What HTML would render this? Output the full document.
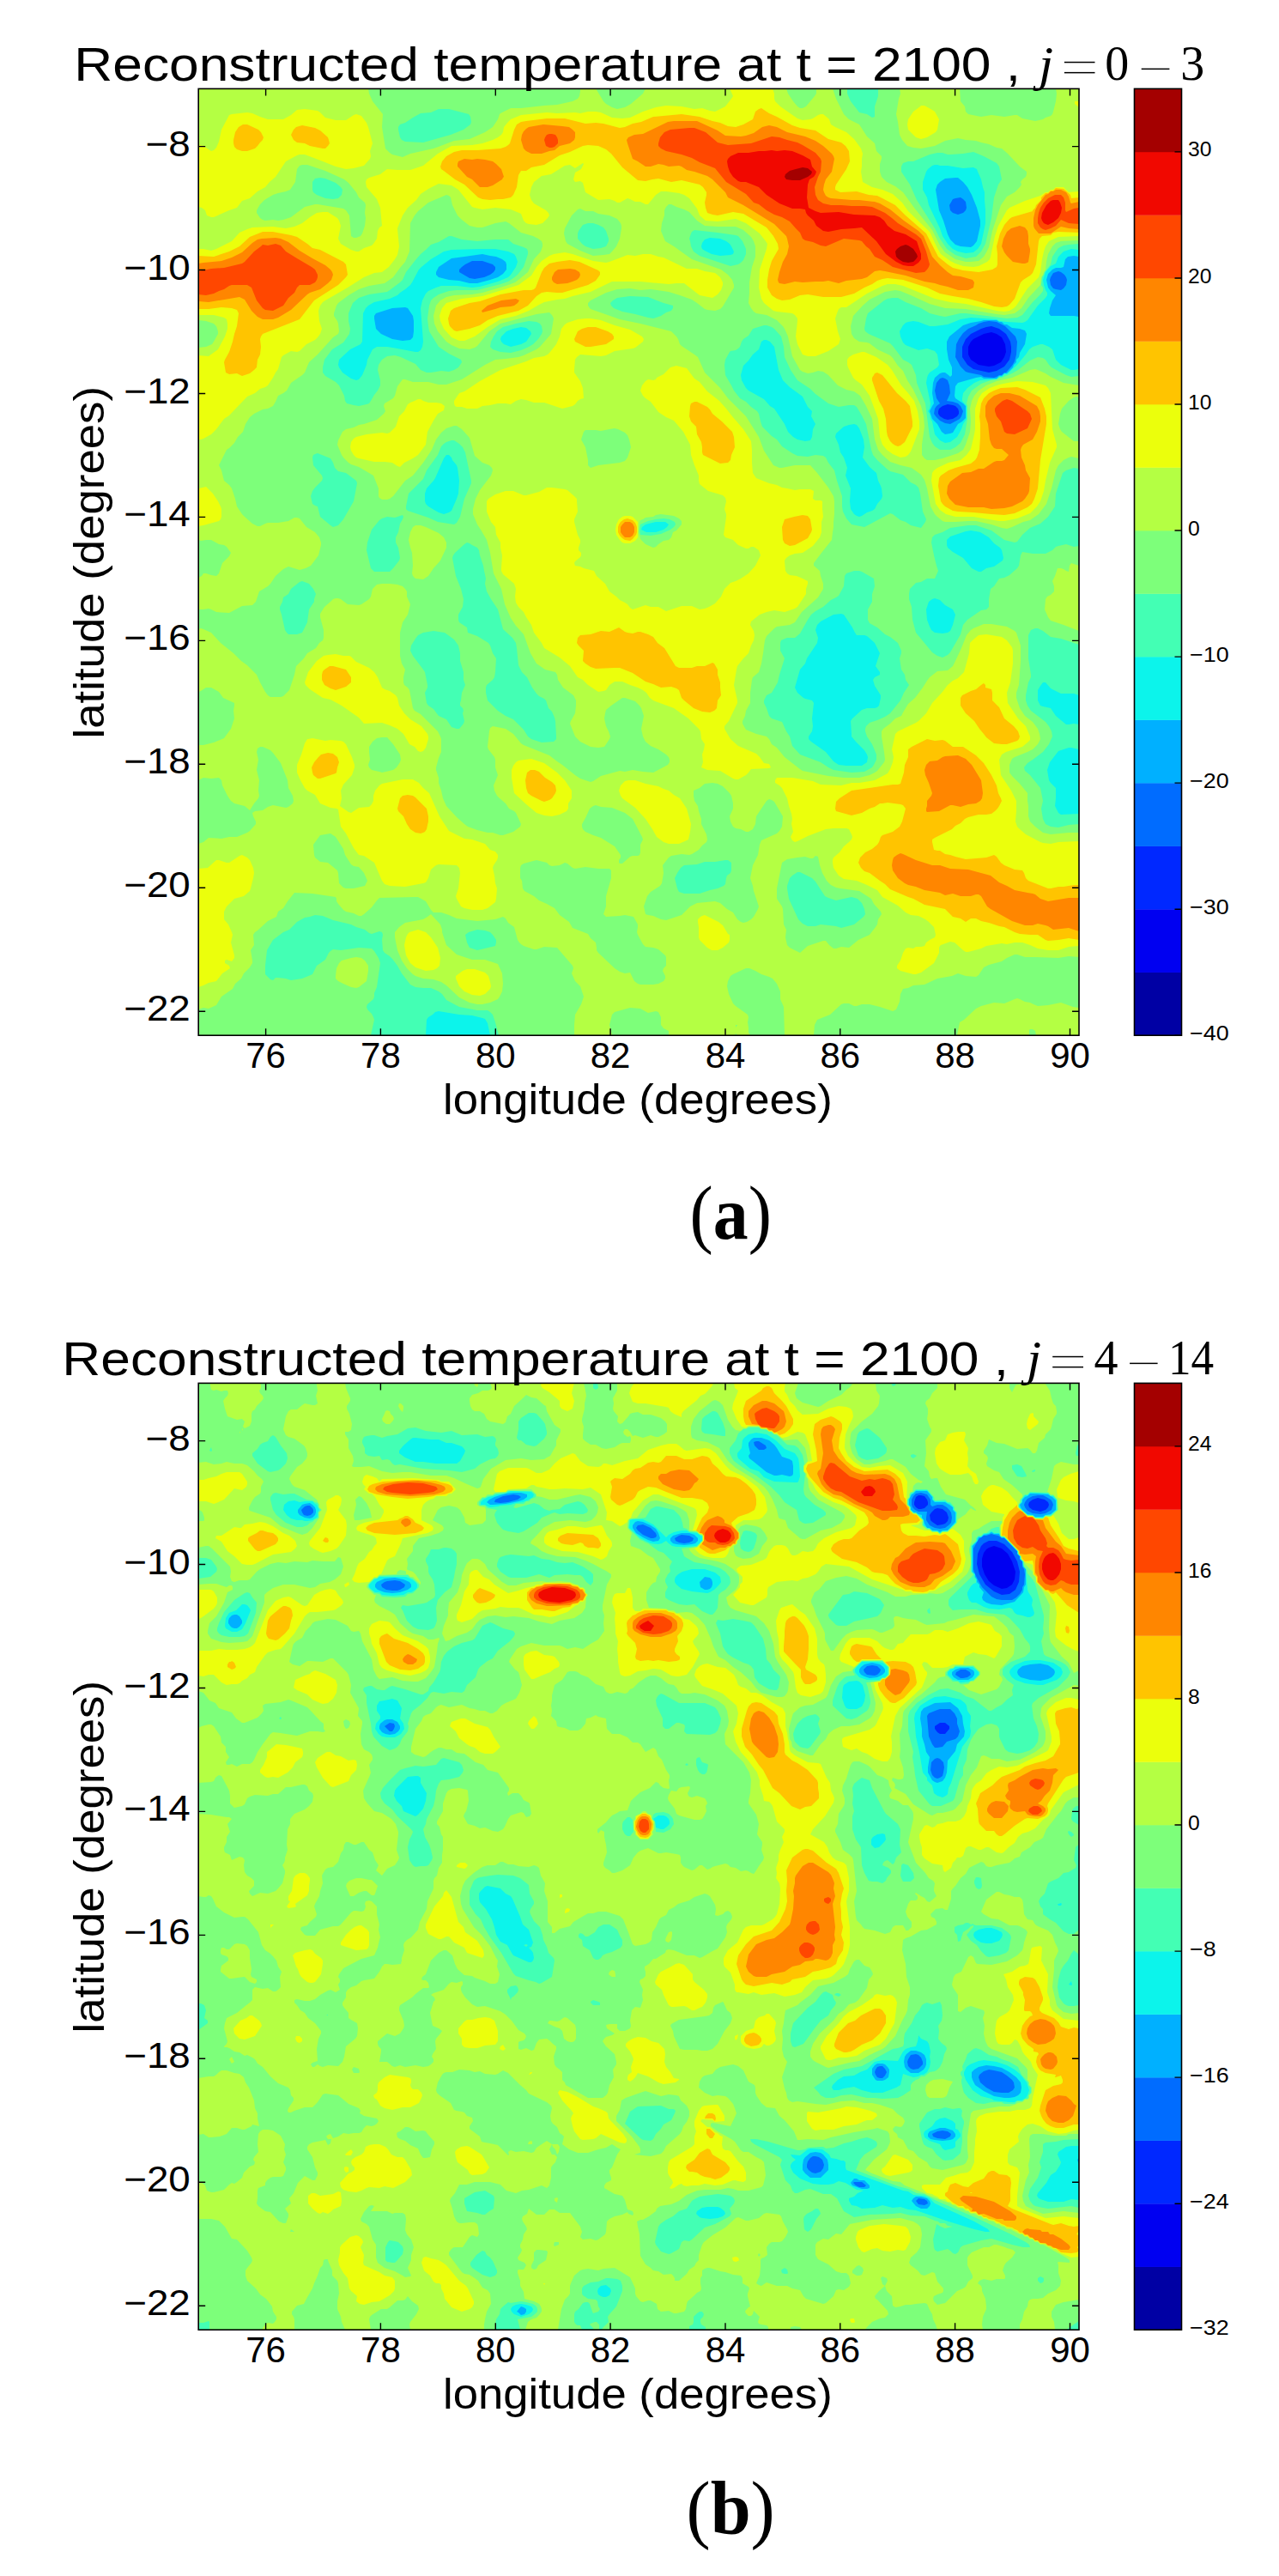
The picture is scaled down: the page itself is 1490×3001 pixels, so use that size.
<!DOCTYPE html>
<html><head><meta charset="utf-8"><style>
html,body{margin:0;padding:0;background:#fff;width:1490px;height:3001px;}
svg{display:block;}
.ti{font-family:"Liberation Sans",sans-serif;font-size:56px;fill:#000;}
.tk{font-family:"Liberation Sans",sans-serif;font-size:42px;fill:#000;}
.lab{font-family:"Liberation Sans",sans-serif;font-size:49.5px;fill:#000;}
.cb{font-family:"Liberation Sans",sans-serif;font-size:24.7px;fill:#000;}
.mi{font-family:"Liberation Serif",serif;font-style:italic;font-size:56px;fill:#000;}
.mr{font-family:"Liberation Serif",serif;font-size:56px;fill:#000;}
.pl{font-family:"Liberation Serif",serif;font-size:88px;fill:#000;}
</style></head><body>
<svg width="1490" height="3001" viewBox="0 0 1490 3001">
<rect width="1490" height="3001" fill="#fff"/>
<rect x="231.2" y="103.4" width="1025.8" height="1102.8" fill="#0000a4"/>
<path fill="#0000f1" fill-rule="evenodd" d="M231 103l1026 0 0 1103-1026 0 0-1103z"/>
<path fill="#0028ff" fill-rule="evenodd" d="M231 103l1026 0 0 1103-1026 0 0-1103zM1146 389l-12 6-3 3-3 6 0 9 3 6 9 6 12 2 6-1 8-4 4-6 2-6-1-9-4-8-6-4-6-2-9 2z"/>
<path fill="#006cff" fill-rule="evenodd" d="M231 103l1026 0 0 1103-1026 0 0-1103zM1098 473l-4 3-1 3 0 3 2 3 5 3 4 1 6-1 5-3 2-3 0-3-1-3-3-3-3-1-6-1-6 2zM1143 383l-12 6-6 6-4 9 0 12 6 9 7 5 18 4 9-2 9-5 6-8 2-9 0-6-1-6-5-9-8-6-9-3-6 1-6 2z"/>
<path fill="#00b0ff" fill-rule="evenodd" d="M231 103l1026 0 0 1103-1026 0 0-1103zM550 304l-8 4-4 3-3 3 0 3 12 7 6 1 11-2 7-3 4-3 2-3 0-3-3-3-3-1-9-3-12 0zM1095 441l-4 5-2 9 2 9 4 6-4 3-2 3-1 6 2 3 5 5 6 3 6 1 11-6 2-3 2-6-3-6-3-3-6-2-7-1 4-9-1-9-2-6-3-2-3-1-3 1zM1110 232l-4 7 1 6 3 3 3 1 3 1 6-2 3-3 1-3-1-7-3-3-3-2-6 1-3 1zM1152 374l-6 1-3 1-3 1-3 2-9 4-6 5-5 7-3 6-1 15 6 11 6 6 3 1 15 3 3 2 12 1 3-1 3-2 3 0 3-3 2 0 7-8 3-5 2-8 1-15-2-6-12-12-10-5-9-1zM1230 317l-3 1-3 5-1 3 1 6 3 4 3 1 6 1 3-2 3-4 1-6-1-3-2-3-4-3-3-1-3 1z"/>
<path fill="#0cf4eb" fill-rule="evenodd" d="M231 103l1026 0 0 196-6-1-7 1-3 3-2 9-3 1-6 0-4 2-5 5-2 7 2 9 3 4 6 5-4 6-3 9-1 6 2 3 27 0 6 1 0 837-1026 0 0-1103zM457 359l-19 6-2 3 0 3 2 12 6 6 13 6 12 2 9-1 3-3 1-7 0-12-1-6-6-9-3-1-15 1zM541 299l-15 2-3 2-12 8-3 6 0 3 3 3 12 3 12 1 12 3 9 0 15-4 9-3 6-4 4-5 0-6-1-3-4-3-7-3-7-1-9-2-21 3zM1101 208l-6 4-3 3-2 6 4 24 5 12 5 16 3 6 6 6 6 2 12 1 3-2 4-5 4-18 0-6-4-15-6-15-5-9-5-6-6-5-3 0-12 1zM1146 373l-3 1-12 2-9 3-16 13-3 6 0 9 2 12 4 9 0 9-2 2-2-2-4-3-3 0-3 1-6 5-2 6-1 12 2 12-2 3-3 6 3 9 6 6 5 9 4 3 6-1 3-1 6-10 5-3 4-4 0-14-3-3-9-6-1-3 1-11 3-4 21-6 6-1 3 2 15 0 3-3 3 0 3-3 3 0 7-7 1-3 3-3 0-3 3-3 1-5 6-10 2-12-2-4-6-2-9-1-6-4-3 0-3-3-3 0-3-2-15 0z"/>
<path fill="#43ffb4" fill-rule="evenodd" d="M231 103l1026 0 0 188-9-1-9 3-6 6-3 8-6 3-6 7-3 9 1 6 2 6 2 3 0 3-2 3-9 9-12 17-3 2-3 1-18-1-9-1-3-2-30-2-12 2-15 6-15 2-6 0-13-5-6-1-6 1-3 1-3 3-4 7 1 6 3 7 3 3 15 6 10-2 3 1 6 2 3 4 2 12-2 3-9 6-2 3-1 3-1 6 5 24-1 6-2 3 2 3 1 6 2 3 3 15 6 7 6 3 6-1 8-6 5-9 2-6 4-6 0-15-5-6 0-3 1-6 5-6 8-6 7-3 19-1 3-3 3 0 3-3 3 0 12-11 10-12 4-6 4-3 9-3 3 0 7 3 4 3 4 12 6 6 12 6 3 0 6-1 0 380-6-2-15 0-12-6-6-7-3 0-3 4-3 5 0 3 0 9 3 6 3 1 9 2 6 9 12 10 3 0 6-1 6 1 0 29-9-2-3 0-12 4-10 13-3 9 2 12 2 3 6 6 0 12-1 9 4 8 3 2 21-1 0 258-686 0-3-14-3-5-3-1-12-3-15-1-24-4-4 1-3 3-5 3-2 3-1 18-265 0 0-1103zM559 290l-33 1-9 2-15 9-11 9-3 3-8 15-2 3-6 5-6 4-3 3-9 4-18 4-7 4-3 3-3 6-1 33-2 3-12 6-13 12-1 6 1 3 4 6 10 7 6 2 3-1 4-5 5-12 1-6 6-12 5-3 12 0 12 2 21 4 3 0 3-2 2-4 1-6-3-39 2-9 4-8 3-3 9-4 6-2 18 0 18 2 9-1 21-6 12-5 3-3 6-9 2-6-2-6-2-3-7-3-15-3-18 0zM764 608l-12 3-4 3-1 3 6 3 11 0 9-3 4-3 2-3-4-3-11 0zM827 277l-6 2-3 4-1 4 1 3 3 2 8 4 10 2 12-1 3-1 1-3-3-6-2-3-4-3-7-3-12-1zM890 396l-3 2-3 9-7 6-5 7-6 6-3 11 1 6 5 9 3 3 18 10 7 8 5 3 12 18 4 9 6 6 5 3 9 2 6-1 2-4 1-9 3-6-5-9 1-6-5-5-6-12-15-11-8-8-5-12-5-27-5-6-4-2-3 0zM971 716l-15 8-4 4-2 6 3 9-1 6-12 18-2 6-6 7-6 21 3 6 7 6 2 1 8 2 2 3-2 18 1 9-1 6-4 6 0 3 3 3 17 12 9 11 6 4 9 1 18 0 6-4 1-6-1-3-3-5-10-10-5-6 0-3-1-15 2-3 11-10 6-2 9 0 3-1 2-2 2-9 0-3-7-11-2-7 2-3 6-3 0-3-5-7 5-15-6-12-9-8-3-1-9 0-2-3-3-6-10-15-3-1-9 1zM995 494l-6 1-6 2-9 8-1 4 4 9 2 9 4 6 4 12-2 9 6 15-1 15 1 9 4 6 3 2 3 1 3-1 6-4 6-2 3-2 3-6 5-6 1-3-1-9-1-3-3-6-2-9-8-7-8-11 2-12-1-9-5-13-3-4-3-1zM1086 193l-5 4-2 3-4 12 0 9 5 9 2 9 13 27 3 9 6 9 6 6 6 3 9 2 9-1 5-4 4-6 5-24 0-15-1-12 0-9-2-6-2-9-4-9-1-3-4-2-12 1-18-3-9 0-3-1-3 0-3 1zM1086 698l-4 3-3 9 1 12 3 8 2 4 4 3 9 1 6-1 3-2 3-7 3-12-3-6-9-5-6-6-6-2-3 1zM1125 619l-18 6-4 4 0 6 1 3 6 5 12 7 10 12 8 4 3 0 6-4 9-2 10-7 1-3-2-9-2-3-7-5-6-7-10-6-5-1-6-1-6 1zM523 530l-3 0-3 4-10 23-2 3-8 9-2 6 0 9 1 3 3 3 12 7 6 2 6-2 3-2 6-14 2-6 1-15-2-15-1-3-5-6-1-3-3-3zM598 383l-8 3-6 6-1 3 1 3 3 3 8 3 12-3 6-3 6-9-1-3-5-4-6-1-9 2z"/>
<path fill="#7dff7a" fill-rule="evenodd" d="M231 103l756 0 0 6 4 9 7 9 3 4 9 2 6 4 3-1 0-12 4-12 0-9 234 0 0 181-12 1-6 1-6 3-3 4-4 6-2 9-7 9-1 3-2 3-1 9 2 3 0 4-3 4-9 9-12 15-6 3-12 1-48-6-6 0-18 4-6-1-12-3-10-6-18-7-9-5-6 0-6 1-4 2-19 15-2 6-2 12 1 3 4 3 25 11 3 3 12 16 6 3 4 3 5 12 1 9 10 24 5 39 3 7 3 4 6 4 12 0 6-3 6-5 5-10 1-6 2-12 0-15-1-3 2-8 4-7 11-8 11-4 7-1 3-2 3 0 12-5 7-4 14-11 9-4 6 1 3 2 4 6 3 3 17 9 6 2 9-1 0 108-6-1-3 1-6 2-4 3-8 24-1 15-8 12-9 8-12 5-9 8-6 8-3 1-12-3-15-11-18-6-9 0-21 3-9 5-9 3-3 3-1 6 3 15 3 12 2 6-4 9-9 0-7 4-6 1-7 7-1 6 0 6 3 9 1 15 4 15 19 23 6 4 6 2 6-3 3-3 12-21 3-11 5-6 16-11 6-1 3-3 0-9 2-12 4-3 6-9 6-1 6-3 9-8 2-3 2-12 2-4 12 2 15 0 8-4 4-4 3-1 9-2 9 3 6-1 0 115-21-7-12-2-9-7-6-3-3 0-5 2-3 6 0 27 3 19 0 3-3 6-3 15 0 6 2 6 4 6 17 13 4 5 3 6 1 6-4 9-7 9-12 9-6 4-4 5 1 4 6 5 12 15 3 15-2 9 1 6 1 6 3 6 6 3 9 1 12-3 12-1 0 246-676 0-4-15-3-9-3-3-3-2-12 0-21-4-15-8-5-7-4-3-9-4-9 0-9-1-6-3-10-13-5-9-6-8-3-3-6-4-2-3-1-12 1-6-1-3-3-1-9 3-3-1-5-4-10-3-6-3-21-5-12-5-9-1-6 2-6 1-9 5-9 9-7 3-12 9-7 12-2 18 0 10 6 6 3 1 3-3 3 0 9 1 6 2 13-2 12-5 5-10 10-7 4-8 2-2 3-2 9 1 21-3 15 1 3 3 5 8 2 6-4 28-3 7 0 4-1 3-7 6-1 3 1 3 5 5 2 4 1 3-4 18-201 0 0-1103zM352 677l-3 1-10 8-3 6-6 4-1 5-3 6 0 3 2 6 4 18 2 3 2 2 10 0 6-2 6-12 2-15 6-9 0-3 2-6-3-6-5-6-8-3zM367 208l-3 4 0 9 1 3 4 3 10 4 9 1 6-1 4-4 1-6-2-3-6-5-12-5-6-1-6 1zM511 127l-9 4-12 1-9 5-9 6-6 2-2 3 0 3 2 9 2 3 4 2 21 1 32-9 15-6 8-6 1-3-1-6-2-3-23-6-12 0zM679 262l-5 7-1 3 0 6 5 6 4 3 9 3 9-1 6-2 3-6 0-3-3-9-3-4-6-3-6-2-6 0-6 2zM719 347l-5 3-3 3 1 3 3 3 10 4 15 3 15 4 6 1 9-3 6-4 6-2 2-3 0-3-11-3-8-3-10-4-21-1-15 2zM809 268l-3 2-1 2-2 6 1 3 1 6 3 6 7 5 36 12 9-2 3-2 3-3 3-7 0-6-4-9-5-6-3-1-21-3-27-3zM890 379l-13 4-5 8-6 4-2 3-2 6-2 2-3 2-6 1-1 1-5 9-1 6 1 12 7 12 3 6 7 9 7 4 6 6 7 5 2 3 2 9 2 6 11 11 6 4 6 8 12 8 6 3 12 1 9-2 9 1 3 2 3 6 7 9 3 12 6 18 0 12 1 6 4 8 6 7 15 3 30-16 3 1 9 7 6 2 6 4 12 3 5-7 1-3-4-9-3-21-2-7-3-3-6-3-9-9-15-4-3-2-12-11-5-6-2-6-6-30-5-10-6-10-3-2-6 0-12 2-12-4-15-11-6-6-15-10-8-12-7-15-1-12-3-12-8-9-3-2-6-2-3 0zM1092 178l-9 2-19 8-6 0-6 2-2 4 0 3 0 3 10 15 8 18 21 33 6 12 8 12 10 7 12 4 6-1 6-1 6-6 5-9 7-30 3-24 5-15 4-6-3-15-3-4-15-8-12-5-12 2-15 1-3 0-6-2-6 0zM367 529l-2 1-1 3 1 9 10 12 1 3-1 3-8 8-3 4-2 6 2 9 3 2 3 1 3 12 12 10 3 2 3-1 3-1 6-7 12-21 4-21-1-3-12-9-9-2-4-4-2-6-3-5-15-6-3 1zM526 275l-3 0-12 7-9 3-6 6-6 5-6 7-11 14-4 9-3 3-12 9-3 2-21 3-12 4-7 6-5 12 0 9 2 9-1 6-7 10-13 8-9 12-2 9 0 6 3 4 12 7 4 4 6 12 1 6 2 3 8 2 6 1 9-2 3-1 2-3 4-7 4-5 3-6 0-6-3-12 1-6 4-6 6-4 9-1 7 2 17 8 6 7 7 3 5 0 12-2 9 1 6-2 5-3 4-6-1-3-14-7-12-8-11-18-1-6-1-9 2-15 2-6 3-3 6-4 12-4 9-1 24 0 27-7 9-3 6-4 5-4 7-9 5-15 0-3-1-3-4-2-12-4-6-5-15 0-21 2-18-2-12-4zM764 605l-9 2-9 4-1 6 1 6 12 1 12-2 11-5 4-3 2-3-1-3-6-3-7-1-9 1zM821 1004l-9 3-15 1-4 3-4 6-3 6 3 12 2 4 6 2 18 0 12-4 9-2 7-3 2-2 1-7 1-3 4-3 1-3 0-9-4-3-3 0-12 2-12 0zM995 665l-9 3-2 3-1 12-6 11-3 2-6 3-9 8-9 5-5 4-4 6-9 16-6 5-9 0-7 3-1 3 0 9 5 9-6 19-2 9-7 12-6 3-3 6 0 3 3 6 3 9 3 3 12 4 1 2 4 9 4 6 3 11 9 10 24 9 9 6 6 3 21 3 15-1 9-5 2-3 3-6 0-6-5-12-6-9-2-6 0-3 1-3 4-4 9-3 9-4 6-4 12-15 4-9 4-6 2-3-4-6-1-6-4-6-2-13 2-6 0-3-4-9-9-7-6-3-9-8-9-5-2-4 0-12 5-9 0-9 3-9-1-9-14-8-3-1-6 0zM463 602l-3 1-9-1-6 2-3 2-9 11-5 15-1 9 5 21 4 4 18 0 4-4 7-9 1-3-1-6-1-6-3-6 0-6 3-6 2-10 3-5 1-3-1-2-6 2zM520 515l-3 2-3 3-4 10-13 18-4 10-17 17-3 15 0 3 2 2 24 8 11 5 19 3 3-2 4-7 5-21 8-18 0-3-7-33-3-6-4-4-6-4-3 0-6 2zM601 377l-15 4-7 5-4 6-3 6-1 6 3 3 9 3 12 1 12-3 9-4 5-3 6-6 4-6 1-3-1-6-2-3-4-2-9-1-15 3zM929 1016l-6 4-3 3-3 9 0 3 2 12 11 24 5 5 6 3 9 0 6-2 9 1 9 1 6 2 15-4 11-9 2-3-1-6-3-7-5-5-7-2-18 4-9-3-4-2-11-17-4-4-14-7-3 0zM493 737l-6 3-3 4-5 8-1 6 3 6 12 16 2 3 3 15 0 3-3 6 1 6 1 6 2 3 6 4 6 8 9 4 6 9 6 2 3 0 5-6 1-3-2-9 1-3-1-3-3-3 0-3 1-3 1-9 4-9-2-6 0-9-4-13 0-9-2-9-5-7-11-8-13-2-6 1-6 1zM544 632l-3 2-11 10-2 3-1 3 4 21 6 15 3 12-1 9-5 9 0 6 1 3 9 6 1 6 11 4 13 8 2 3 3 9 4 6-1 16-1 6-2 3-7 6-1 3 0 6 2 9 12 12 9 6 9 4 12 12 5 8 4 3 12 4 14-1 3-3 0-3-1-18-1-4-3-7-4-4-3-9-2-2-6-3-3-3-5-7-6-12-6-6-4-8-2-20-1-6-4-6-11-10-6-23-8-12-5-9-2-9 1-6-2-9-1-6-4-12-1-6-2-3-6-3-3-2-3-1zM556 1083l-10 3-4 3 2 9 3 6 3 1 6 2 21-5 1-4 0-3-4-6-3-3-6-2-9-1z"/>
<path fill="#b4ff43" fill-rule="evenodd" d="M231 103l198 0 1 6 4 9 12 15-1 15 4 25 5 5 3 2 12 3 9-4 27-6 24-9 18-2 18-8 9-6 6-9 2-6 1-1 12-6 12 0 27-3 15-1 9-2 9-2 6-3 2-3 1-6 0-3 18 0 9 15 3 3 7 4 6 2 9-2 7-4 14-12 3-6 164 0 2 6 6 9 5 6 3 2 3 0 4-2 10-12 2-3 0-6 19 0 4 12 9 18 6 6 12 6 9 14 9 8 2 9 6 6 0 3-2 6 0 9 2 6 6 6 10 5 9 7 13 18 21 26 9 18 6 8 12 8 12 3 6 0 9-1 6-5 3-5 3-6 4-19 10-30 7-10 9-5 6-6 2-3-1-3 2-3 4-3 1-3 0-3-8-6-14-15-7-6-6-1-9-4-9-2-6-2-12-1-9-2-15 3-12 6-16 3-9-1-7-2-6-7-3-6-2-15-2-9 3-18 2-6-1-6 70 0 1 15 5 6 1 6 3 3 15 3 12-2 15 2 12-2 3 0 6 4 15 3 9-2 3-2 6-2 2-2 1-3 3-12 1-9-1-6 27 0 0 177-21 1-6 2-4 4-5 9-2 9-1 9-2 3-1 3-2 3-1 9-14 15-8 12-8 6-12 2-9-1-36-6-24-1-18-5-22-10-12-5-6-1-6 1-6 1-18 9-8 7-11 12-3 12 1 9 3 5 6 4 9 1 3 1 9 7 15 7 3 3 6 9 6 6 5 11 7 11 9 19 3 12 1 12-3 21 0 12 3 4 3 2 9 0 9-2 18-6 6-4 3-6 5-15 1-12-1-15 2-9 3-6 5-6 9-6 12-5 18-4 21-9 6-1 3 1 9 4 6 4 15 7 18 3 0 14-3-1-3 1-6 4-8 9-2 6-2 12 2 6 2 3 14 11 6 0 0 20-9-2-3 1-6 3-6 6-3 6-5 21-6 18-9 12-10 7-8 2-13 6-6 2-6-1-12-4-18-4-9 0-15 1-12 0-3-1-6-5-3-3-5-9-4-21-3-10-4-6-11-8-13-3-12-4-9-8-5-6-4-12-3-24-7-15-7-12-7-5-9-2-10-5-11-12-6-4-6-1-6 2-6 1-6-2-3-2-9-16-5-23-4-9-2-3-7-7-12-6-12-2-3-2-3-4-3-6 1-12 0-12 3-18 4-12 0-12-2-6-3-5-9-8-9-4-21 0-15-1-9-6-9-10-6-3-9-3-6-3-3 0-3 3-2 4 0 6-3 9-1 9 5 12 10 6 21 15 34 12 8 6 5 6 2 6 0 3-13 22-3 3-6 2-9-1-3-1-9-7-6-4-14-5-13-4-21-3-12 1-12-2-15 1-13 4-18 9-3 3 0 3 2 3 1 1 34 12 24 5 36 9 6 6 2 3 2 6 2 2 15 10 4 3 8 18 18 18 9 12 21 21 15 24 6 16 11 17 7 3 3 0 15-3 18 0 8 9 13 17 6 10 1 6 0 15-1 9 0 6-1 6-1 9-12 15-9 12 0 3 7 6 1 6 3 9 0 6-6 10-19 17-8 12-6 3-15 2-3 2-9 9-2 5-2 15-2 12-3 10-7 6-1 3-2 15 0 9 0 3-5 9-1 6-3 6 0 3 4 7 12 5 12 3 3 3 3 6 6 4 9 11 18 14 3 2 30 6 18 2 18 0 12-3 6-3 3-2 8-10 1-3-1-9-3-18 0-6 2-3 8-6 6-6 7-3 2-4 6-10 8-7 9-12 5-8 3-4 9-7 12-1 6-5 3-6 7-15 6-15 5-6 3-2 12-5 9 0 18 3 9 5 2 2 5 15 0 18-2 28-3 9 0 6 4 12 6 9 9 7 6 8 2 6 1 6-3 6-6 6-6 3-15 6-3 2-3 7 0 9 3 4 9 9 9 11 0 9 1 6 0 12 2 6 6 6 9 7 9 2 21-2 12 0 0 145-12-1-12 2-27-1-12 0-9-3-3 0-9 4-6 4-15 4-6 3-6 9-3 2-12-1-9-3-7 3-17 3-15 7-13 1-6 3-6 1-3 6-1 9-4 9-4 2-15-5-12-3-9 0-6 2-3 0-6-3-6 0-3 1-13 12-15 6-3 6-1 12-34 0-1-33-4-9 0-9-4-9-5-6-4-2-9-3-7-4-7-3-4 0-15 7-3 2-3 6-1 6 2 9 5 11 3 3 14 10 1 3-1 6 1 6 0 6 2 3-15 0-2-2-1 2-77 0 0-5-6-3-3-4 0-9-3-6-3-1-9 2-9-5-12-1-18 5-3 3-3 12 3 12-44 0 0-12 1-12 7-12 3-9-4-12-6-6-4-9 2-6-1-3-18-21-15-1-9 3-3 0-12-4-3-2-2-2-2-3-4-15-7-5-3-5-3-2-9 3-21 2-24-3-9-4-9-3-9 0-3-3-6-10-9-5-3 0-42 1-3 3-6 8-9 8-3 2-3 0-6-3-9-2-3-2-6-7-2-3 0-3-1-2-27-4-21-1-8 10-5 8-6 4-2 6-10 5-12 11-3 2-2 3 1 12-4 6 2 12 0 3-3 5-7 7-3 6-7 6-3 6-13 9-6 10-9 4-6-1-6 2 0-193 6-2 6-5 15 1 9-2 9 0 12-5 3-2 7-8 0-3-3-6-1-4 3-2 9-1 6-4 6-2 15 3 3-1 5-4 1-3-1-6-5-9-1-9-8-20-9-12-3-3-9-4-3 0-3 2-1 4 2 9-2 12 3 12-1 12 1 6-1 3-5 6-5 8-6-5-12-3-4-3-4-6-3-6-3-6-1-6-3-3-9 1-9-1-6 3 0-41 6 0 12-3 12-5 8-11 3-9 1-3-1-9 1-6 0-3-13-6-5-7-9-5-6 0-6 4-3 1 0-73 3-1 3 1 9 4 11 12 15 12 9 9 7 5 11 11 4 9 6 11 3 4 3 2 12 0 3-1 7-7 6-18 2-10 9-9 4-6 10-6 4-6 4-3 1-3 0-9-4-15 0-4 5-8 7-6 3-3 3-1 3 0 3 1 8 6 13 1 3-1 9-6 2-3 2-9 5-5 6-1 9 0 9 1 6 2 3 3 2 3 0 6 4 9-3 12-6 9-3 12 0 27 2 9 4 7-2 9 0 6 1 3 4 3 2 3 4 21 2 3 7 4 11 11 9 9 3 6 1 3 0 15-3 7-3 11 0 3 3 9 0 6 3 9 2 9 4 9 12 13 9 8 4 3 11 4 12 3 6 0 9 3 3 0 12-4 8-6 1-3-6-13-2-2-6-3-4-6-7-6-3-3-3-6-1-6 5-12-3-9 0-9-1-3-7-9-1-3 2-18 1-4 3-2 15 3 9 6 9 11 3 2 30 12 9 7 6 4 15 12 6 4 12 4 3-1 9-6 22-6 6 1 9-2 12 2 12 1 17-9 2-3 0-3-1-3-3-3-9-6-9-4-6-5-3-6-2-9 3-15-3-9-2-3-5-5-12-4-3 0-13 9-6 5-1 4-1 6 2 9 3 6 2 6-1 3-6 9-7 1-9-1-12-6-6-6-6-15 1-3 5-9 1-9 0-6-3-6-12-9-2-3-4-6-1-6-2-3-12-3-10-7-7-12-8-22-9-10-6-9-7-16-4-18-9-18-4-24-4-15-7-12-4-6-5-12 0-6 3-12 5-10 13-17 2-6-1-3-3-3-8-3-9-8-6-21-9-10-6-4-3 0-9 3-6 5-6 8-5 12-10 15-12 15-9 6-14 18-4 3-3 1-6 0-3-2-1-2 0-9-6-15-17-10-9-3-3-2-6-6-2-3-5-12 1-5 5-10 4-3 9-2 6-3 6-1 15-5 8-7 2-3-2-6 1-3 10-6 2-3 3-11 6-8 3 0 9 3 18 0 12 3 9 0 3-1 15-5 27-17 12-6 12-1 15-2 6-2 15-7 4-3 13-15 2-12 1-6-2-4-3-3-15 2-42 11-13 9-14 17-3 2-6 2-12-1-9-4-6-4-10-12-4-9-1-9 3-12 5-6 7-4 9-2 21-1 12-2 27-8 11-4 4-3 11-9 7-15 8-9 2-6 0-3-1-3-4-3-6-3-14-4-14-11-4-2-12 2-15 5-6 0-9-2-9-7-5-5-6-12-2-9-2-2-3-1-21 9-12 10-4 5-5 9-1 33-5 12-6 7-8 11-10 7-18 3-12 4-12 7-12 9-2 3-3 9 0 3 4 6 1 3 1 9-1 3-6 4-18 20-10 9-5 12-3 3-13 9-5 9-4 3-6 3-3 7-3 5-6 3-6 1-10 5-5 4-5 8-3 9-6 6-4 7-6 6-3 2-9 18 3 6 3 12 6 5 3 4 4 12 2 9 6 9 3 3 9 8 6 3 3 0 6-3 3-1 12 0 12-2 7-4 3 0 3 1 8 10 10 6 5 6 2 6 0 3-3 12-9 12-6 3-7 2-13-4-6 3-9 8-6 9-3 3-10 6-1 3-3 9-4 4-12 1-15 8-15-1-6-3-3-1-6 1-6 0 0-37 4-2 2-3 3 0 6 2 6 1 3-3 4-12 8-8 2-4-5-7-3-2-6-1-9-5-6 0-6 1-3-1 0-224 9-1 7-3 2-3 5-9 0-3-2-6-3-3-9-3-9-1 0-270zM349 193l-3 4-2 15-6 9-5 2-9 2-6 2-10 6-5 5-4 7 0 3 4 6 3 2 3 1 9-1 6 1 6-1 9-3 16-12 12-3 3 0 30 5 3 2 4 6 2 24 3 2 3 0 5-2 2-3 3-9 1-9-1-6 1-9-1-3-7-6-3-6-9-11-5-4-22-10-21-7-6 0-3 1zM673 244l-7 7-8 15-1 6 2 9 2 3 15 8 15 6 12-1 7-1 3-3 5-6 4-9 2-12 0-3-1-3-4-5-9-4-13-2-6-3-9 0-6-3-3 1zM710 500l-10 2-6-1-12 0-2 2-3 9 5 9 3 15 0 6 3 3 9-3 25-3 6-2 3-4 2-6 2-6-2-9-2-5-3-3-8-4-4-1-6 1zM770 599l-6 1-3 2-9 1-3 2-3 1-1 2-1 12 2 8 6 6 9 4 3-1 3-3 6-4 6-1 3-3 2-6 4-2 6-7 0-4-3-3-6-3-15-2zM821 913l-6 5-7 3 0 6 1 6 4 6 1 6 3 9 0 6 6 12 1 6-1 3-5 4-4 5-8 5-3 1-9-1-12 2-3 2-7 9 1 9-2 12-2 3-11 7-4 5-4 12 2 9 3 1 6 1 9 4 6 1 9-3 9-3 10-10 8-4 21-2 6 2 8 7 7 4 5 8 4 3 3 1 4-1 5-3 3-3 5-9 1-3-6-18-1-6-3-9 3-15 6-12 2-12 2-5 18-8 3-3 3-5 1-12-10-17-3-2-3-1-3 2-10 15-2 3-1 9-3 6-5 3-3 0-6-3-6-1-3-2-3-6-1-6 4-9 0-6-2-9-2-3-8-8-6-3-6-1-9 1zM929 999l-12 2-6 4-6 30 0 12 6 9 1 3 1 18 3 6-1 9 2 9 3 3 12 6 9-8 18-6 3 0 4 5 5 4 3 0 6-2 9 1 11-9 13-6 7-9 2-3 1-6 4-6-1-3-8-9-3-6-14-9-22-3-5-1-6-3-5-5-5-9-3-9-2-10-3-1-3 3-3 0-6-2-9 1zM857 1194l0 3 2-3-2 0zM379 972l-6 1-8 11 1 12 1 3 6 5 9 1 11 9 1 3 1 12 5 5 3 1 9 0 13-3 3-6-4-9-6-7-6-1-3-2-7-11-2-7-9-14-6-4-6 1zM439 860l-5 4-4 6 0 6 1 9-2 6 1 3 3 3 9 2 3 1 13-3 4-3 4-6 1-3-1-6-8-12-7-8-6 0-6 1zM625 1002l-15 4-3 2-1 3 0 12 2 3 1 9 2 3 11 6 6 5 9 4 9 5 6 8 11 8 4 7 18 7 3 5 6 5 1 6 0 3 2 3 19 18 6 4 3 1 3 1 6-1 5 10 4 3 3 1 6 0 9 0 6-1 6-3 2-3 0-3-3-6 1-3 3-3 0-10-1-2-8-7-6-2-9-1-3-3-6-11-1-3 1-6 0-3-5-9-10-2-6 1-16 1-3-3 3-9 0-12 6-21 0-9-2-2-13 0-15-2-12 2-3-1-6-5-3-1-6 3-9 1-3-1-3-3-12-3zM694 938l-3 1-4 3-5 11-4 7 0 3 1 3 3 3 9 4 9 3 16 10 7 10 0 3-2 3 0 3 1 1 3 0 9-8 3-1 6 0 2-1 1-3 0-9 3-6-1-3-11-21-9-7-15-6-13-1-6-2zM481 614l3-2 6 0 6 2 15 7 6 5 3 6 0 6-7 15-8 9-6 9-6 4-9-1-3-3-1-3 1-9-1-15-2-6-2-9 2-9 3-6zM1246 659l2-3 9 3 0 76-18-7-15-5-3-4-4-9 1-12 2-3 4-2 4-4 0-6-2-6 3-6 3-9 4 0 3 1 3 2 3 1 1-7zM498 1068l4-3 11 12 2 6 0 3 5 15 12 11 18 6 15 0 12 4 3 1 5 11 1 12-1 9-3 6-2 3-9 4-9 2-6 0-9-2-12-6-15-14-6-4-9-3-12-1-9-3-3-2-7-7-6-9-5-12-3-15 0-6 5-6 7-5 21-4 5-3zM409 1116l6-1 6 1 4 3 4 6 0 6-2 12-9 7-3 1-6-1-9-4-6-3-3-3 0-3 1-9 3-6 3-3 11-3zM1182 1164l3-1 3 1 6 3 6 1 4 2 5 2 12-1 15-3 14 5 7 1 0 32-50 0-1-5-3-2-3 0-1 1 0 6-84 0 3-15 5-3 14-13 6-3 15-4 12 1 12-5z"/>
<path fill="#ebff0c" fill-rule="evenodd" d="M850 103l50 0 2 6 0 6 1 3 6 6 20 14 6 2 9-1 3-1 6-4 3-1 3 0 6 5 1 1 2 6 5 3 13 6 9 8 8 11 2 6-1 6 0 9-1 6 2 12 11 6 12 3 12 5 11 10 7 10 25 24 9 19 4 7 11 8 6 3 9 3 12 1 6-1 10-5 3-3 1-3 5-24 4-12 10-18 3-3 18-8 18-6 6-4 3 0 3-3 3 0 3-3 9 0 6 6 12-1 0 52-24 1-11 5-4 6-2 6-2 9-2 15-2 6-13 13-13 20-3 3-5 3-6 1-9-1-36-8-18-2-18-4-37-15-9-2-9 0-6 2-18 9-24 16-6 0-3 2-2 5-2 6 3 15 3 9-2 6-12 8-15 6-9 0-6-2-6-12-2-9 2-18 0-3-3-4-3-2-18-2-4-1-11-9-3-5-3-13 1-21 8-24 1-6-2-3-7-9-16-12-12-5-21 3-14-1-7-6-3-8-9-12-6-4-6-2-15-2-6 0-6 4-9 11-3 0-6-3-6 0-6-3-3-1-9 5-3 0-3-2-6-2-13 1-15-9-3-11-3-2-6 1-2-3 2-8 7-4 3-6-1-1-9 6-6-4-6 1-16 10-11 2-5 4-4 3-3 6-2 9 2 6 3 4 14 8 3 3 1 3-2 3-6 6-7 2-9-1-3-1-3-3-3-8-12-5-18-2-15 2-9-2-3-1-16-20-8-5-15-2-12 6-9 6-5 7-10 9-6 9-6 15 2 21-2 10-3 5-7 9-8 6-9 1-12 5-19 12-26 15-3 2-3 4-2 6 1 12 3 9-2 6-3 4-3 3-10 5-8 8-3 1-7-1-9 5-2 2-4 14-3 4-3 6-6 9-3 2-6 2-6 5-9 4-21 22-6 4-9 12-6 6-9 5-3 1-3 0 0-98 12 1 11-8 8-15 3-9 0-6-1-5-3-2-12-3-18 0 0-77 6 0 9 2 6-2 18-9 9-10 9-4 6-2 24-1 15 2 10-2 9-4 9-7 8-5 7-1 6 0 3 2 8 5 2 3 2 6-3 15 3 6 12 7 6 2 3 0 6-4 9-3 2-2 4-6 1-9 2-4 3-2-2-21-4-10-12-14-1-6 1-3 3-2 13-4 8-6 12 1 15 0 15-5 17-14 16-9 24-1 12-2 12-4 6-3 4-3 2-3 1-6 5-6 3-3 12-5 30-3 12 1 21-1 6 1 9-2 9 0 6 1 13 6 12 1 9-1 15-7 15-5 12-2 18 1 15 3 9-1 9 3 6 1 12-6 7-9 2-3-4-9zM1252 118l5 0 0 7-5-4 0-3zM1072 124l1-1 4 0 9 5 3 2 5 9-2 12-2 3-10 6-7 2-6-2-3-3-6-6-1-6 1-6 4-6 2-3 8-6zM355 127l15 2 3 2 6 6 12 3 12 0 9-6 3-1 6 2 6 8 2 5 5 19-3 9 1 6-1 3-7 8-12 3-9 1-12-3-15-6-21-8-6 0-3 1-13 7-12 18-7 6-5 6-9 5-9 8-9 3-6 8-9 3-18 8-3 0-5-2-2-6-4-3-4-1 0-72 6 1 9 6 3-1 3-3 3-7 3-14 8-15 1-2 3-1 18-2 6 1 9 4 9 3 15 0 3 0 9-5 7-6 9-1zM645 296l13-2 9 2 24 8 15 2 4-1 21-8 9 1 9-2 9 0 9 3 6 1 27 13 12 0 9 3 12 2 6 5 3 6 0 3-2 6-4 5-6 4-15-3-18-14-9 0-9 1-33-3-33 0-25 12-21 5-9 3-9 1-15 3-6 3-12 7-15 6-18 4-15 9-15 11-12 5-6 0-9-4-9-10-4-9-1-6 3-9 5-6 18-5 24-3 42-13 15-11 6-10 6-7 9-6 5-2zM682 371l6 0 12 2 16 6 18 5 14 8 2 3-1 3-9 7-3 1-21 3-10 5-6 1-24-2-4 3-2 3-1 12 0 3 7 10 3 8 1 12-4 1-3 2-3 4-3 2-12 3-21-7-12 0-9-3-6-1-6 2-6 4-6-1-9 0-9 2-9 1-6 3-12 0-6-2-6 0-2-1-1-3 0-3 6-9 6-2 18-12 24-13 30-10 9-4 12-2 4-2 3-3 7-9 4-9 2-9 4-5 3-2 12-4 9-1zM994 413l10-3 3 0 14 6 13 9 5 6 11 18 8 9 7 9 4 12 2 12 0 9-10 26-3 4-3 2-6 1-9-4-7-5-5-6-3-9-2-21-10-27-9-13-7-5-3-3-6-12-1-3 0-6 2-3 5-3zM781 428l7-2 12 3 9 12 6 4 9 11 14 11 8 9 7 9 13 15 9 14 1 10 0 15 1 12 4 6 15 6 9 2 6 3 6 1 9 2 6-1 12 0 4 2-1 9 3 2 6 0 2 1 0 9 1 9-2 6 0 12-2 6-8 10-6 4-6 4-9 1-6 2-4 3-2 3 1 12 2 3 3 2 8 1 7 3 6 3 0 3-2 6 0 6-8 12-2 3-3 2-12 4-12-2-9 2-8 3-10 8-1 4 4 7 1 5-1 6-3 6-3 9-6 6-7 9-1 4-3 18 4 18 0 3-10 21-5 6 0 3 7 12 9 8 21 9 4 4 5 7 6 1 2 4-2 1-21 1-3 4-3 3-9 5-3 0-3-1-15-9-15-1-7-3 2-6-1-9 2-6 1-6-4-6-1-9-2-3-12-12-17-12-24-9-4-3-4-6-4-3-6-3-9-3-9-4-9 0-6 4-4 6-3 1-6 1-12-8-6-6-6-3-9-13-12-10-18-11-3-6-9-12-3-9-6-9-3-6-6-6-3-5-1-7 1-9-2-6-13-11-2-4 0-3 1-15-2-9 0-6-5-9-1-9-5-6-5-12 0-9 0-3 2-3 8-5 12-4 9 0 12 5 3 0 15-4 9-5 6 0 15 2 3 1 8 7 3 3 0 3 1 12-4 9 0 3 4 15 3 6 0 3-2 6 0 3 3 3 0 3-1 2-6 5-1 2 1 3 6 1 4 2 12 3 3 6 10 9 5 9 8 6 4 4 6 3 3 2 3 4 3 2 15-5 6 2 9 0 9 5 18-6 12 0 9 4 6-1 5-2 7-4 7-8 4-9 7-7 6-2 6-3 9-6 8-9 6-12-1-3-1-3-6-4-3 0-3 2-3 0-9-4-6-6-9-3-2-3 3-21 0-3-2-6 2-9-1-4-3-3-17-5-10-8-1-4 0-6-5-12-4-12-1-12-8-15-11-13-9-4-9-6-9-12-6-4-3-3-3-6 1-3 1-3 4-5 3-2 6 1 3-1 1-2 8-4 8-8zM1174 446l11-2 18 1 15 4 3 3 3 6 2 42 5 18 0 3-8 18-5 21-2 12-4 12-4 6-8 8-15 6-15 3-6 0-30-5-21 0-11-3-7-5-5-7-5-27 1-9 2-3 4-3 13-6 14-3 7-6 5-7 4-17 1-6 0-24 4-12 4-6 9-6 11-4 10-2zM483 467l4-2 3 0 3 2 6 2 9 0 6 1 4 3-1 5-7 4-5 8-7 13-2 15-9 12-6 4-10 5-5 5-3-1-6-4-9-1-12 0-18-4-3-1-3-3-3-5-1-4 1-6 3-4 3-2 12-3 18-2 6 1 3-1 7-7 4-12 6-6 4-8 3-2 5-2zM232 569l8-2 8 8 6 9 3 6 1 3 0 9-1 3-2 2-18 5-6 1 1-44zM725 602l3-1 6 0 3 1 6 6 0 12 0 6-3 4-6 3-6 0-3-1-3-3-4-6-1-6 1-6 3-6 4-3zM1140 740l9-1 18 3 6 4 6 8 1 4 0 15-3 22-4 12 1 12 12 18 9 9 5 12 0 4-3 3-6 5-19 6-5 3-3 6 2 18 12 18 6 12 0 12-1 12 2 6 3 3 7 6 17 9 3 1 9 1 9-2 24-1 0 122-12 1-12 4-12 0-12-2-9-4-9-3-9 0-9 2-6-1-18 3-6 3-15 4-3 0-3-2-10-9-5-1-11 4-1 1-1 2 0 6-6 12-15 11-6 2-3 0-15-4-4-3 0-3 4-6 3-9 3-5 3-1 6 1 3-2 6 0 4-1 2-4 4-3 6-3 1-3-2-9-6-6-4-3-8-4-9-1-6-3-9-8-18-10-6-8-12-6-12-5-15-2-6-4-6-9-1-6 0-3 1-3 7-6 5-7 6-5 3-3 1-3-1-3-3-6-3-1-15 0-9 1-21 8-12 6-3 1-3-2-2-4 3-6-2-9 1-6-1-6-3-9-2-9-6-12-3-3-5-3 0-3 2-3 3 0 6 0 9 0 24 4 9 4 24 1 12-3 9 0 18-3 15-8 3-5 3-8 1-6-2-9 4-18 3-3 21-10 3-2 9-9 7-12 12-13 6-8 6-5 6-3 4-4 3-3 2-7 4-15 1-12 4-4 6-5zM377 764l5-1 9-1 9 2 7 0 2 1 6 6 15 7 6 5 4 6 5 12 3 2 6 2 7 5 2 3 2 9 6 9 7 7 13 8 7 9 1 3 0 3-3 10-3 4-3 1-3-1-4-5-6-3-7-12-7-6-9-4-9-3-21 1-6-7-20-14-13-7-9-2-15-10-5-5-1-3 4-12 10-13 8-6zM359 861l5-1 15 3 6-1 12 1 3 1 3 3 7 15 3 9 0 3-3 9-10 11-3 7 1 9-2 9 10 7 3 1 9-6 12-1 3-3 2-4 0-6 2-6 5-6 3-2 24-5 12 0 7 4 5 6 7 6 12 27 11 17 18 9 9 1 15 5 6 7 6 2 3 4 0 3-1 3-4 6-1 3 2 9 1 9 2 6-1 12-1 4-9 7-6 2-12 0-9-2-4-2-5-9-1-3 3-9 2-18-1-6-3-3-21-1-3 1-6 5-3 10-3 5-3 1-21 4-18-1-6-2-3-4-9-21-12-8-6-1-6-8-9-17-6-8-3-20-2-1-7-1-12-5-6-10-9-5-3-3-5-9-4-9 0-9 5-12 4-13 3-5 1 0zM611 885l8-1 15 5 15 11 9 9 8 12 0 6 0 3-4 6 0 6-2 3-8 4-9 2-9-1-9-3-12-10-14-13-3-18 0-9 2-5 3-4 3-2 7-1zM732 909l8 0 12 4 15 3 6 3 6 2 6 5 7 4 8 12 5 18-1 9-2 9-2 1-9 4-12 0-6-2-8-6-5-9-8-12-12-13-15-11-2-3-2-6 2-6 5-5 4-1zM276 999l3-2 3-1 6 3 3 3 4 9 1 6-1 6-3 12-1 3-7 6-11 3-9 9-3 6 0 6 0 3 5 6 4 9 1 3-2 9 4 15 0 3-3 4-6-2-2 1 0 3 5 3 1 3-9 6-7 9-9 2-6 3-6 2 0-138 11-1 10-9 3 0 9 3 3 0 9-6zM816 1068l2-1 3-1 16 8 5 4 6 10 2 1 0 6-1 3-7 6-6 3-7 0-5-3-6-6-3-3-1-3 0-12-1-6 0-3 3-3zM477 1086l10-3 9 3 6 6 8 12 3 12-1 9-3 3-4 2-9 1-12-4-6-5-5-9-2-12 2-9 2-4 2-2zM539 1131l5-2 9 0 12 4 4 4 2 7 1 5-1 3-6 6-6 2-9-1-9-4-6-6-4-9 0-3 8-6z"/>
<path fill="#ffc400" fill-rule="evenodd" d="M884 127l3-1 9 6 9 4 18 10 9 3 18 3 15 10 15 4 5 4 4 6 1 12-4 9-12 18-1 3 0 3 6 3 19-1 14 4 10 1 6 3 15 8 12 12 24 21 14 27 11 9 6 4 12 3 18 2 16-3 5-3 1-3 0-12-1-9 4-15 5-10 6-7 3-2 24-7 0-1 3-3 1-3 6-6 0-3 5-5 3 0 3-3 3 0 3-3 9 1 8 7 1 4 9-1 0 41-24-1-6 1-3 3-10 1-3 3-1 3-3 27-4 10-3 3-8 5-3 3-7 19-6 7-3 2-6 1-9-1-15-5-15-4-18-3-15-3-15-7-28-9-18-2-6 1-6 2-6 4-9 4-12 7-15 4-21 0-18-3-9 1-12 5-9 1-6-2-6-4-5-9 0-9 2-12 3-10 8-14-1-6-5-9-8-10-27-16-12-2-18 4-6-1-6-2-2-6-1-6 2-9 0-3-4-6-4-3-21-5-12 2-15-4-7 1-8 2-9-1-18-15-13-16-6-5-9-4-12-1-6 1-15 7-12 4-18 11-15 3-6 4-6 0-3 5-2 14-4 9-3 3-9 2-6 0-9 1-9-1-5-2-16-15-11-6-13-10-3-2-1-3 2-6 5-6 9-5 9-2 18 0 27-2 6-2 3-2 2-2 5-16 3-6 5-3 6-1 24-3 21 0 24 6 12-1 9 1 19 5 6-1 9-4 10-2 14-6 33-3 21 3 15 5 9 2 9 4 9 1 9-3 11-6 3-9 4-3zM283 145l5 0 13 6 3 3 3 6-1 3-3 3-3 4-3 3-9 3-6 0-6-2-3-3-1-4 0-4 2-9 4-6 5-3zM345 148l7-2 15 3 6 3 9 8 1 3 1 4-2 3-3 3-3 0-15-3-6-3-9-1-4-3-3-6 3-6 3-3zM301 272l5-2 12 0 21 4 7 2 12 8 6 5 9 2 27 14 3 3 2 12-2 3-9 9-28 18-17 22-43 17-2 3-1 3 1 9-1 9-3 6-1 9-3 3-5 4-9 3-6-3-9 1-4-2-2-12 1-3 5-9 4-12 2-9 3-9 2-15-2-4-6-2-12-1-15 2-12 0 0-62 18 1 18-6 12-6 12-11 10-4zM649 305l15-2 11 2 22 10 2 2 0 3-5 7-9 5-30 9-6 0-12-1-6 1-6 4-10 11-11 6-24 6-12 5-9 6-12 4-15 3-3-1-5-5-1-3-1-6 3-9 4-3 18-6 12-2 24-8 27-5 9 0 3-1 2-2 7-18 3-5 6-5 9-2zM678 383l7-2 9 0 14 5 5 3 2 3 0 3-9 6-18 3-6 0-12-6-1-3 4-9 5-3zM1018 437l1-2 3-1 6 3 17 21 10 9 5 6 3 18 0 6-3 6-6 12-5 4-3 1-3-1-3-2-3-3-3-6-1-5-1-15-3-12-5-9-8-24 0-3 2-3zM1166 452l19-1 9 3 18 9 5 13 2 9 0 9-7 42-3 33-4 12-3 6-5 4-15 7-12 2-15-1-21-2-18-1-6-1-9-5-3-3-2-3-3-18 1-9 2-3 9-6 8-3 18-5 5-4 2-3 3-9 1-15 0-15-1-9 2-15 3-6 6-6 6-3 8-3zM805 470l4-2 3 0 12 6 3 3 3 5 11 9 12 12 2 6 1 12-4 9-1 6-3 3-9 1-20-10-1-3 0-6-1-6-5-9-1-9-6-6-2-6 1-12 1-3zM925 602l10-2 6 1 3 4 2 12-1 3-4 7-15 8-6 1-6-3-2-4-1-15 3-9 11-3zM727 605l4-1 6 2 3 3 2 5 0 6-1 3-4 5-3 2-6-1-3-2-3-3-2-4 0-6 1-3 2-3 4-3zM721 731l7 5 3 1 6 1 6-2 3 0 9 3 6 3 5 7 8 6 13 21 4 2 15 0 6-2 9 0 9-4 2 1 4 7 0 6 3 9 0 6 1 9-4 6-1 9-3 3-5 2-9-1-10-4-11-9-3-3-3-9-3-2-6-2-12 1-9-4-9-3-15-10-15-6-6 0-22 1-6-2-6-4-3-3 1-12-6-6-2-3 1-6 3-3 12-1 12-4 10 1 11-5zM384 776l4 0 15 4 6 9 0 3 0 3-6 5-12 4-6-2-7-4-3-6 0-6 1-4 2-2 6-4zM1143 798l3-2 2 2 0 3 7 2 1 4 0 9 2 2 6 6 6 13 11 9 5 6 2 6-1 3-2 2-12 4-6 0-9-1-9-7-3-4-5-6-6-9-10-9-4-6-2-3 0-6 0-3 2-3 10-5 6-2 6-5zM1074 864l6-3 9 2 9-1 3 1 9 7 12 0 15 10 9 9 9 14 6 12 2 9 3 6 1 3-3 6-2 3-3 3-4 3-6 1-9 0-12 3-4 2-5 5-6 3-4 4-20 10-3 2 0 3 2 9 4 1 3 0 6 4 6 1 6 2 12 3 24-2 9-3 3 2 5 7 4 3 12 5 9 1 2 3 2 6 3 3 23 9 3 0 9-2 6 0 12-2 6 0 0 64-12-2-12 2-12 1-3-1-9-6-9 0-12-1-6-2-12-6-6-1-12-4-9-2-6-3-6 0-6 4-6-4-9-2-9-9-24-5-13-7-6-2-21-9-6-6-6-4-12-9-6-2-4-4-3-6 2-6 6-6 8-4 6-5 2-3 2-6 2-2 12-4 8-6 3-6 4-15-3-4-3-1-15-2-6 1-3 0-6 4-6 2-9 5-12 3-18-5-1-3 1-8 4-4 14-9 48-7 6 0 3-1 4-13 1-9 4-9 0-9 4-3 12-6zM374 879l8-2 6 1 5 4 2 6-2 6-1 6-1 1-18 6-3 0-5-4-1-3-1-6 3-6 5-6 3-3zM618 897l5 0 5 2 7 7 8 5 4 4 1 6-1 3-4 6-3 2-6 2-3-1-12-6-4-3-2-6-1-9 2-9 4-3zM469 927l6-1 6 1 3 2 13 13 2 9 0 6-2 9-2 3-2 1-3 1-6-1-6-4-4-6-4-9-6-6-1-3 3-12 3-3z"/>
<path fill="#ff8600" fill-rule="evenodd" d="M778 142l7-1 27 0 24 11 9 6 18 1 6-1 9-3 10-7 8-2 9 2 12 6 21 5 12 5 9 6 10 9 2 3 1 3-3 15-7 9-2 6-1 6 1 3 2 4 3 2 3 1 24 2 9 0 18 2 6 2 12 7 16 13 17 12 6 6 10 24 9 10 9 8 6 4 9 1 14 4 2 3-1 6-6 3-12 0-12-4-9-2-6-2-12-2-22-7-24-5-6-1-6 1-9 7-6 2-18 2-9 3-12-3-6 1-9 0-15 1-9-1-12 3-6-1-1-1-1-3 2-9 4-12 5-9 2-9-2-9-1-3-14-14-36-22-18-9-3-6-3-3-3-3-9-9-6-4-15-5-9-2-6-4-3-1-12 1-6-2-6-1-9 3-6 0-9-6-6-3-6-18-1-4 2-3 7-3 10-1 29-14zM633 145l22 2 8 1 4 3 3 3 0 6-1 3-5 4-12 3-6 5-6 1-9 3-9 0-3 0-6-3-3-3-3-10 1-6 2-4 3-3 3-2 17-3zM534 188l7-3 9 1 6-1 9 1 9 2 4 3 6 6 3 9-1 1-1 2-11 7-6 2-9 0-9-9-6-3-9-10-2-2 0-3 1-3zM1232 221l4 0 6 3 3 5 2 7 1 1 9-2 0 32-12-1-9-2-12 8-14 0-5-6-1-3 0-9 2-9 3-6 9-12 3-1 3-3 3 0 3-2 2 0zM1178 266l10-3 6 2 3 4 1 6 0 9 2 6 0 3-2 12-1 1-3 1-3 0-11-2-7-7-3-4-3-7 2-9 4-8 5-4zM305 278l16-1 6 1 9 4 13 10 15 9 15 8 6 5 2 3 1 3-2 6-4 4-9 7-12 4-3 2-19 18-15 9-6 2-12 0-6-3-7-7-8-13-6-3-36 6-12-1 0-44 6-1 21-2 12-4 12-6 12-11 6-4 5-1zM650 314l14-1 6 1 5 3 1 3-1 3-3 3-5 2-6 2-12 1-4-2-2-3 0-3 3-6 4-3zM584 350l17-2 4 2-2 3-4 3-4 1-12 1-6 2-15 4-1-2 7-6 16-6zM1166 458l10 0 12 3 20 12 3 6 1 6 0 6-4 12-5 9-11 6-2 3-1 3 1 9 4 9 1 6 5 9-1 15-1 3-4 6-3 3-12 6-9 2-15 1-9-2-18 0-15-3-7-7-3-6 1-9 3-5 14-10 10-1 9-4 6 0 12-8 3-1 6 0 3-1 5-6-8-7-6 0-3-1-3-4-2-6-2-18-3-9 0-12 3-6 7-6 8-3zM728 608l3 0 3 0 3 2 2 4 0 6-2 4-3 2-3 0-3 0-3-3-2-3 0-6 2-3 3-3zM1098 882l3-1 15-1 9 4 7 7 11 18 2 15-1 6-2 3-5 3-9 1-6 2-3 1-9-2-3 0-13 7-14 1-1-1 0-3 1-3 0-6 5-6 1-3-4-12-4-9-1-6 1-3 1-3 4-4 9-1 6-4zM1045 996l4-2 3 1 15 7 19 6 9 0 12 4 21 1 26 7 10 8 9 4 9 5 15 3 6 1 3 1 6 5 6 2 3 1 24-4 12 0 0 39-12-4-18 2-6-4-3-1-9-2-6 2-9 0-15-5-25-14-4-3-7-12-3-2-3 0-6 2-12 0-9-3-9 2-6-3-18-3-10-4-9-2-4-2-8-6-6-9-1-6 1-6 1-3 4-3z"/>
<path fill="#ff4700" fill-rule="evenodd" d="M781 151l22-2 6 0 13 5 14 12 12 3 27-2 24-8 9 1 9 3 12 3 6 3 15 9 6 7 1 3-1 12-3 6-4 12 1 9 3 6 6 4 9 2 12 0 12 1 15 0 9 1 15 7 8 6 7 6 21 13 6 5 6 15 4 15-1 3-2 3-3 3-10 1-27-7-12-8-9-4-6-9-4-3-5-6-3-1-18-2-21 9-6-1-9-4-9-2-3-2-3-7-5-5-7-8-9-5-9-3-9-5-9-7-6-2-9-10-23-14-13-16-18-7-9-5-12-4-18-4-6-3-3-3 0-3 2-7 5-6 7-3zM637 157l3-1 3 0 4 1 2 3 1 3 0 4-4 4-3 1-3 0-4-2-2-7 1-3 2-3zM1229 227l7 0 3 3 2 6 0 9 1 2 9-4 6-1 0 19-12-1-9-4-6 7-6 3-6 2-3-1-3-2-3-5 0-6 1-6 2-6 4-6 5-5 8-4zM304 287l2-2 6 1 9-2 6 2 6 7 13 8 17 10 4 3 3 6 0 3-1 3-2 3-6 3-12 0-3 3-3 6-7 6-6 9-12 6-9-1-3-2-7-9-6-15-5-3-18 0-3 1-6 4-6 2-6 3-9 2-9-1 0-27 15-3 15-1 21-5 3-2 11-12 8-6zM1168 467l5-2 6 2 18 12 3 3 2 6-5 11-15 7-9-1-3-2-4-12-5-6-2-6 0-3 2-3 7-6z"/>
<path fill="#f10800" fill-rule="evenodd" d="M891 176l8-1 6 1 9-1 9 1 12 5 9 5 2 8 5 6-1 3-2 3-5 3-2 6-1 15 2 12 8 4 6 2 21-1 18 3 24 1 6 2 5 4 4 6 8 6 13 4 13 8 5 15 0 6-3 4-6 4-6 0-6-1-8-4-12-9-11-15-17-16-9 1-15 1-15 3-6-1-8-6-3-6-7-6-2-3-1-4-6-1-9 0-15-6-15-10-9-9-15-6-6 0-3-1-6-5-4-6-2-6-1-6 1-3 3-3 9-4 12 0 12-2 7 0zM1227 233l6 0 2 3 2 6-1 6-3 6-6 5-6 3-3-1-2-1-2-3-1-3 1-6 5-9 5-5 3-1z"/>
<path fill="#a40000" fill-rule="evenodd" d="M927 197l8-2 6 1 5 4-1 3-4 3-9 4-9 0-7-1-2-3 1-3 5-4 7-2zM1049 287l6-2 3 1 6 4 4 6 1 3-2 3-3 3-6 1-6-1-5-3-3-3-1-6 2-3 4-3z"/>
<rect x="231.2" y="103.4" width="1025.8" height="1102.8" fill="none" stroke="#000" stroke-width="1.6"/>
<path d="M309.6 1206.2v-8M309.6 103.4v8M443.4 1206.2v-8M443.4 103.4v8M577.3 1206.2v-8M577.3 103.4v8M711.1 1206.2v-8M711.1 103.4v8M845.0 1206.2v-8M845.0 103.4v8M978.8 1206.2v-8M978.8 103.4v8M1112.6 1206.2v-8M1112.6 103.4v8M1246.5 1206.2v-8M1246.5 103.4v8M231.2 170.6h8M1257.0 170.6h-8M231.2 314.5h8M1257.0 314.5h-8M231.2 458.5h8M1257.0 458.5h-8M231.2 602.4h8M1257.0 602.4h-8M231.2 746.4h8M1257.0 746.4h-8M231.2 890.3h8M1257.0 890.3h-8M231.2 1034.2h8M1257.0 1034.2h-8M231.2 1178.2h8M1257.0 1178.2h-8" stroke="#000" stroke-width="1.4" fill="none"/>
<text x="309.6" y="1243.5" class="tk" text-anchor="middle">76</text>
<text x="443.4" y="1243.5" class="tk" text-anchor="middle">78</text>
<text x="577.3" y="1243.5" class="tk" text-anchor="middle">80</text>
<text x="711.1" y="1243.5" class="tk" text-anchor="middle">82</text>
<text x="845.0" y="1243.5" class="tk" text-anchor="middle">84</text>
<text x="978.8" y="1243.5" class="tk" text-anchor="middle">86</text>
<text x="1112.6" y="1243.5" class="tk" text-anchor="middle">88</text>
<text x="1246.5" y="1243.5" class="tk" text-anchor="middle">90</text>
<text transform="translate(221.8 181.6) scale(1.0900 1)" class="tk" text-anchor="end">−8</text>
<text transform="translate(221.8 325.5) scale(1.0900 1)" class="tk" text-anchor="end">−10</text>
<text transform="translate(221.8 469.5) scale(1.0900 1)" class="tk" text-anchor="end">−12</text>
<text transform="translate(221.8 613.4) scale(1.0900 1)" class="tk" text-anchor="end">−14</text>
<text transform="translate(221.8 757.4) scale(1.0900 1)" class="tk" text-anchor="end">−16</text>
<text transform="translate(221.8 901.3) scale(1.0900 1)" class="tk" text-anchor="end">−18</text>
<text transform="translate(221.8 1045.2) scale(1.0900 1)" class="tk" text-anchor="end">−20</text>
<text transform="translate(221.8 1189.2) scale(1.0900 1)" class="tk" text-anchor="end">−22</text>
<text transform="translate(516.0 1298.0) scale(1.0640 1)" class="lab" text-anchor="start">longitude (degrees)</text>
<text transform="translate(121.0 860.5) rotate(-90) scale(1.0660 1)" class="lab">latitude (degrees)</text>
<rect x="1321.5" y="1132.68" width="55.0" height="73.82" fill="#0000a4"/>
<rect x="1321.5" y="1059.16" width="55.0" height="73.82" fill="#0000f1"/>
<rect x="1321.5" y="985.64" width="55.0" height="73.82" fill="#0028ff"/>
<rect x="1321.5" y="912.12" width="55.0" height="73.82" fill="#006cff"/>
<rect x="1321.5" y="838.60" width="55.0" height="73.82" fill="#00b0ff"/>
<rect x="1321.5" y="765.08" width="55.0" height="73.82" fill="#0cf4eb"/>
<rect x="1321.5" y="691.56" width="55.0" height="73.82" fill="#43ffb4"/>
<rect x="1321.5" y="618.04" width="55.0" height="73.82" fill="#7dff7a"/>
<rect x="1321.5" y="544.52" width="55.0" height="73.82" fill="#b4ff43"/>
<rect x="1321.5" y="471.00" width="55.0" height="73.82" fill="#ebff0c"/>
<rect x="1321.5" y="397.48" width="55.0" height="73.82" fill="#ffc400"/>
<rect x="1321.5" y="323.96" width="55.0" height="73.82" fill="#ff8600"/>
<rect x="1321.5" y="250.44" width="55.0" height="73.82" fill="#ff4700"/>
<rect x="1321.5" y="176.92" width="55.0" height="73.82" fill="#f10800"/>
<rect x="1321.5" y="103.40" width="55.0" height="73.82" fill="#a40000"/>
<rect x="1321.5" y="103.4" width="55.0" height="1102.8" fill="none" stroke="#000" stroke-width="1.6"/>
<text x="1384.0" y="182.4" class="cb" text-anchor="start">30</text>
<text x="1384.0" y="329.5" class="cb" text-anchor="start">20</text>
<text x="1384.0" y="476.5" class="cb" text-anchor="start">10</text>
<text x="1384.0" y="623.5" class="cb" text-anchor="start">0</text>
<text transform="translate(1386.0 770.6) scale(1.0900 1)" class="cb" text-anchor="start">−10</text>
<text transform="translate(1386.0 917.6) scale(1.0900 1)" class="cb" text-anchor="start">−20</text>
<text transform="translate(1386.0 1064.7) scale(1.0900 1)" class="cb" text-anchor="start">−30</text>
<text transform="translate(1386.0 1211.7) scale(1.0900 1)" class="cb" text-anchor="start">−40</text>
<path d="M1376.5 176.9h-8M1376.5 324.0h-8M1376.5 471.0h-8M1376.5 618.0h-8M1376.5 765.1h-8M1376.5 912.1h-8M1376.5 1059.2h-8M1376.5 1206.2h-8" stroke="#000" stroke-width="1.4" fill="none"/>
<text transform="translate(86.3 93.5) scale(1.1126 1)" class="ti" text-anchor="start">Reconstructed temperature at t = 2100 ,</text>
<text transform="translate(1210.0 93.5) scale(1.1000 1)" class="mi" text-anchor="start">j</text>
<rect x="1239.9" y="71.8" width="35.6" height="1.5"/><rect x="1239.9" y="83.9" width="35.6" height="1.5"/>
<text x="1287.2" y="93.0" class="mr" text-anchor="start">0</text>
<rect x="1329.7" y="79.6" width="32.7" height="1.5"/>
<text x="1375.3" y="93.0" class="mr" text-anchor="start">3</text>
<rect x="231.2" y="1611.4" width="1025.8" height="1102.8" fill="#0000a4"/>
<path fill="#0000f1" fill-rule="evenodd" d="M231 1611l1026 0 0 1103-1026 0 0-1103z"/>
<path fill="#0028ff" fill-rule="evenodd" d="M231 1611l1026 0 0 1103-1026 0 0-1103zM1152 1803l-3 2-3 4-2 7 0 9 3 9 5 8 6 5 9 4 6-1 6-4 3-6 1-9-4-12-5-9-7-6-9-3-6 2z"/>
<path fill="#006cff" fill-rule="evenodd" d="M231 1611l1026 0 0 1103-1026 0 0-1103zM1070 1742l-3 2-1 3-1 3 0 3 2 3 3 2 3 0 4-1 4-4 0-3-1-3-3-4-4-1-3 0zM1089 1758l-4 4-2 3 1 6 2 2 6 4 6-1 3-1 3-3 1-4-2-6-5-4-6-1-3 1zM1152 1795l-6 3-3 3-4 9-1 12 3 12 7 12 10 8 9 4 9-1 7-5 4-9 1-12-3-12-6-11-9-9-9-4-9 0zM1203 1747l-4 3-1 3 1 3 4 3 9 2 6-2 3-3 1-3-1-3-4-3-8-2-6 2zM1095 2007l-6 4 0 3 3 4 3 2 6 0 5-6 0-3-5-4-6 0z"/>
<path fill="#00b0ff" fill-rule="evenodd" d="M231 1611l1026 0 0 1103-1026 0 0-1103zM355 1755l-4 4 1 3 2 3 4 1 4-1 3-3 0-3-1-2-3-3-3 0-3 1zM451 1842l-3 1-4 3 1 3 5 3 7 1 6 0 3-1 5-3 1-3-6-4-6-1-9 1zM586 1743l-9 4-1 3 7 1 9-1 11-3 4-3-3-2-6-1-12 2zM743 1777l-2 3 2 3 6 5 9 4 3 0 3-1 1-2-1-3-6-6-9-4-6 1zM794 1788l-3 1-5 3 1 3 4 2 6 1 6-1 4-2 1-3-5-3-9-1zM878 1680l1 4 5 5 6 0 3-2-1-3-8-5-3 0-3 1zM947 2512l-3 2-3 4-1 4 0 3 2 3 4 3 4 1 3-1 3-1 3-4 1-4-1-3-1-3-4-3-4-1-3 0zM995 2542l-1 1 3 3 4 2 6 0 2-2-5-4-3 0-6 0zM1010 1941l-4 4 1 3 3 3 9 1 3-1 3-3 1-3-4-4-6-1-6 1zM1061 2394l-3 5-1 3 1 5 3 3 3 1 6-1 5-5 0-3-2-5-3-3-3-1-6 1zM1067 1740l-3 3-2 4 0 6 1 3 3 3 4 2 10 0-1 7 0 3 4 6 6 3 6 1 6-1 4-3 3-3 1-6-1-6-2-3-3-3-5-3-6 0-6 2-2-2 0-6-4-6-7-2-6 1zM1116 1947l-2 1-1 3 3 2 3 2 3 0 5-1 4-3-1-3-5-3-6 0-3 2zM1149 1789l-3 0-6 4-6 11 0 24 2 6 1 2 2 4 1 2 4 7 11 11 6 3 6 1 12 0 5-3 4-4 3-5 0-3 2-3 1-12-1-6-2-3 0-6-3-3 0-3-3-3 0-3-15-15-3 0-4-3-5-1-3-1-3 1-3 1zM1203 1743l-6 3-3 4-1 3 1 3 3 4 6 3 9 1 6-1 7-4 1-3 1-3-1-3-2-3-5-3-4-2-6 0-6 1zM454 2007l-6 4 6 6 3 0 2-3 1-3-1-3-5-1zM1025 2407l-3 1-2 3-1 3 1 3 2 3 3 1 3 0 3-3 2-4-2-4-3-3-3 0zM1070 2561l-3 3 3 4 7 1 4-2-1-3-3-2-7-1zM1092 1992l-10 4-2 3 2 24 4 9 3 4 3 0 6-1 5-6 10-3 3-3 2-6-3-9 0-6-3-6-5-5-3 0-9 0-3 1zM1146 2413l-5 4-1 3 2 6 7 6 9 5 9 1 8 0 5-3 2-3-1-6-2-3-6-5-6-4-9-2-6-1-6 2zM1089 2049l-4 4-1 9 2 6 3 3 3 1 3-1 3-2 1-4 1-6-1-6-3-3-1-1-3-1-3 1zM1092 2483l-6 3 1 3 5 2 9 1 6-3 1-3-4-3-6-1-6 1z"/>
<path fill="#0cf4eb" fill-rule="evenodd" d="M231 1611l1026 0 0 903-2 2 1 3 1 1 0 194-1026 0 0-1103zM273 1881l-3 1-3 3-1 3 0 3 2 3 2 2 3 1 3 0 3-2 3-4 0-3-3-5-3-2-3 0zM355 1752l-3 1-5 6 0 3 2 3 6 3 6 1 3-1 3-3 1-3 0-3-1-3-3-3-3-2-6 1zM448 1839l-9 4-2 3 0 3 3 3 8 3 9 1 9-1 9-3 4-3 0-3-2-3-7-3-10-2-12 1zM589 1740l-13 4-6 3-3 3 4 3 3 0 15-1 15-3 6-2 4-3 0-3-7-2-9 0-9 1zM740 1773l-3 4 0 3 4 6 8 5 6 3 6 2 6-1 2-3-2-6-3-5-6-4-9-4-6-1-3 1zM794 1786l-10 3-3 3 0 3 3 3 4 1 9 1 9-1 4-1 3-3 0-3-4-4-6-2-9 0zM821 1837l-6 6 1 6 5 3 3 0 3-1 2-2 1-3 0-3-1-3-2-2-6-1zM875 1677l-3 4 0 3 2 9-2 3 1 3 4 3 16 13 9 4 3 0 6-1 9 2 3-1 1-2 0-9-1-6-3-2-9-3-6-10-3-4-6-5-9-3-9 0-3 2zM944 2508l-6 5-2 3-1 6 0 6 3 4 6 5 6 0 6 0 9-9 0-6-1-6-5-6-3-2-6-1-6 1zM995 2538l-4 5 2 3 11 4 6 0 3-1 0-3-6-6-6 0-3-2-3 0zM1007 1939l-4 3-2 3 0 3 2 3 4 2 6 2 9-1 6-3 3-3 0-3-2-3-4-3-9-2-9 2zM1067 1737l-3 3-2 1-3 6 0 6 2 3 0 3 4 3 2 0 3 2 4 1 0 3 2 3 1 4 3 5 3 0 3 3 6 0 3 2 3-2 6 0 9-10 0-11-3-3 0-3-4-3-2-1-3-2-12 0-3-3 0-3-6-7-13 0zM1155 1785l-3 2-6 1-3 3-3 0-1 4-6 6 0 30 3 3 0 3 2 3 0 3 3 3 0 3 5 6-2 6 1 3 4 3 6 2 12 1 15-4 10-11 1-6 2-3 0-18-3-3-1-6-3-3 0-3-3-3 0-3-15-16-3 0-3-4-6 0-3-2zM1200 1740l-3 3-3 1-3 3 0 3-3 3 1 3 2 3 6 5 6 1 3 2 9 0 3-2 6-1 6-5 0-11-4-4-2-1-3-2-12-1-9 0zM448 2004l-5 4-1 3 0 3 3 4 4 2 5 1 6-1 4-3 2-3 0-3-3-5-6-3-6 0-3 1zM607 2687l-5 6 2 1 3 3 4-1 2-3 0-3-3-2-3-1zM1022 2404l-3 2-3 4 0 7 4 6 2 1 6 0 3-1 4-3 1-6 0-3-2-3-3-3-3-1-6 0zM1061 2389l-5 4-2 3-1 6 1 6 2 3 5 4 3 0 6 0 6-4 2-3 1-3 0-6-2-5-4-3-6-2-6 0zM1089 1984l-13 6-3 4-1 8 2 12 0 9 3 9 2 9 4 6-2 12 0 6 5 9 3 2 3 1 3-1 3-1 3-4 2-6 1-14 9-11 2-8 8-9 1-6-2-9-1-9-5-9-9-7-18 1zM1113 1945l-4 3 0 3 2 3 5 3 6 0 6 0 5-3 2-3 0-3-1-2-6-3-9 0-6 2zM1140 2408l-5 3-3 3 0 6 1 3 3 6 10 7 12 6 12 2 6 0 6-1 4-2 3-3 1-6-1-6-5-6-8-6-9-5-9-2-9-1-9 2zM1200 1939l-9 2-5 4-1 3 1 3 3 3 11 3 12 1 9-2 4-2 3-3 1-3-1-3-4-3-3-2-9-2-12 1zM1067 2559l-3 2-2 3 5 6 6 3 4 0 3 0 3-3 1-3-1-3-3-3-7-2-6 0zM1095 2479l-6 2-6 2-2 3 0 3 3 3 5 1 9 1 9-1 3-1 3-3 0-3-3-4-9-3-6 0z"/>
<path fill="#43ffb4" fill-rule="evenodd" d="M231 1611l1026 0 0 889-9 0-6 1-9 6-1 3 4 9-1 3-5 8-3 2-3 2-5 9-10 12-1 3 2 3 2 1 9 3 18 0 9-3 9 1 0 151-1026 0 0-1103zM282 1869l-7 7-8 3-4 6-1 9 1 3 7 4 6 0 6-3 4-7 6-15-1-2-3-4-3-1-3 0zM336 1749l-5 4-1 6 4 6 5 4 7 2 6 0 3 1 3 0 6-1 6-4 0-5 2-3-3-6-2-1-3-3-9 0-6 1-6-2-7 1zM445 1837l-3 0-3 2-3 1-6 6 0 3 3 3 4 3 5 0 3 3 12 1 13-1 5-3 4 0 5-3 2-3 0-3-2-3-4-3-7-3-28 0zM478 1677l-8 7-5 6 0 3 7 5 12 5 9 0 15 2 24 0 4-3 5-9 1-3-2-3-2-2-12-4-6 0-9-4-9 0-18-2-3 0-3 2zM595 1737l-3 1-3 2-10 1-5 2-5 1-6 3-3 3 0 3 5 0 3 2 3 1 9-1 3-1 12-1 6-2 8-1 7-3 5-3 1-3-3-3-24-1zM700 2663l-3 3-1 3 1 4 3 2 3 1 3 0 4-2 2-5-1-3-5-4-6 1zM737 1770l-3 1-1 9 13 12 12 6 9 1 4-1 5-3 3 3 4 3 5 1 9 0 14-1 7-6 0-5-1-1-2-1-3-2-9-1-3-2-6 0-9 2-6 3-3 3-15-15-12-6-12 0zM872 1671l-5 4-2 3-1 9-5 6 0 3 1 3 14 12 10 3 6 7 12 5 24 1 3 0 1-1 2-6-1-15-1-6-4-6-12-5-10-10-11-7-12-2-9 2zM944 2503l-3 1-9 7-11-1 2 3 4 3-4 3-2 3 0 3 3 6 8 7 15 6 9 1 9 0 6-1 6-3 8 2 13 8 8 1-7 3-4 4-6 2 0 3 3 5 6 1 6 3 15-1 9-3 12 3 9-1 9 3 9 1 38 13 30 9 13 3 5 0-2-3-16-9-46-21-6-6-6-3-13-1-6-4-6-1-66-24-1-3 0-6-2-2-3 0-6-2-6-1-2-4-8-6-14-1zM989 1959l-6 4-1 3-1 12 2 6 1 3 2 3 3 1 9 0 6-3 3-6 1-7-3-12-4-4-3-1-9 1zM1007 1936l-3 0-6 6-2 3 0 3 5 6 9 3 14 0 4-3 3 0 3-3 0-9-6-5-6-1-15 0zM1067 1736l-3 3-3 2-1 3-2 3 0 6 3 3 0 3 3 3 3 0 9 9 0 6 4 3 3 1 3 2 6 1 3 2 3-2 6-1 10-9 0-12-3-3 0-3-4-4-3-1-3-2-12 0-2-2 0-3-7-8-13 0zM1155 1784l-3 2-6 1-3 3-3 0-2 2 0 3-6 6 0 30 3 3 0 3 2 3 0 4-3 1-3 3-4 7 0 3 2 6 3 3 5 0 9 5 6 2 12 1 12-2 3 1 3 5 3 2 6 1 6 2 3 0 4-2 1-3-3-9 1-6-1-3-4-6-1-3-2-24-2-3-1-6-3-3 0-3-3-3 0-3-16-16-3 0-2-2-1-3-6 0-3-2zM1200 1739l-3 3-3 0-3 4-1 4-3 3 0 3 10 9 6 0 3 3 9 0 3-3 6 0 7-6 0-12-4-4-3 0-3-3-21-1zM1248 2308l-3 4 3 1 1-1-1-4zM448 1981l-6 1-3 5 0 6 4 6 0 3-5 6-1 6 4 6 4 3 6 1 9 0 7-4 4-6-1-6-4-6 2-12-5-9-6-2-9 2zM475 2070l-13 13-2 3-1 6 3 6 6 6 2 6 14 6 3-2 6-7 3-9 1-9-7-12 0-6-3-2-3 0-9 1zM568 2197l-3 1-5 5-2 3 0 6 1 4 7 8 7 12 3 9 2 9 5 8 8 4 5 9 2 3 18 8 3 0 2-2 1-3-1-6-2-3-3-3 3-1 2-5-5-15-7-6-3-9-9-21-2-3-6-3-6-6-15-3zM767 2115l-6 4 2 3 1 7 6 2 3 0 4-3 3-3 0-3-1-3-3-3-3-1-6 0zM806 1828l-11 3-5 3-3 3-1 3 0 3 2 3 6 5 12 3 18 2 3-1 5-3 6-6 2-3-1-6-6-5-12-4-15 0zM1022 2137l-5 3-2 3 0 6 4 4 5-1 6-6 2-3-1-6-3-1-6 1zM1089 1977l-6 3-11 7-6 9-1 6 1 9 1 12 4 18 4 24 5 6 0 3 6 6 2 9 4 3 6 2 4-2 2-2 1-7 3-6 13-42 9-12 1-6-1-6 1-9 0-3-4-6-1-6-2-3-5-4-18-4-12 1zM1113 1942l-3 2-3 1-3 3 0 3 6 6 6 1 3 2 9-1 3-1 3-1 6-6 0-3-7-6-20 0zM1194 1935l-12 5-5 5-1 3 1 3 2 3 4 3 11 4 15 2 6 0 16-6 4-3 2-3 1-3-2-5-3-2-6-4-15-3-9 0-9 1zM607 2684l-6 1-4 2-2 3 1 3 3 3 8 3 9-3 4-3 1-3-2-3-6-2-6-1zM818 2572l-6 4-1 3 4 4 3 1 9 1 9-1 6-2 3-3-1-3-5-4-3-1-12 0-6 1zM1070 2371l0 1-1 6-2 6-6 1-6 2-3 3-6 11-18-1-9 2-9 9-8 3-7 4-12 1-7 4-6 6-1 3 2 3 6 0 6-2 12-2 9 4 12 3 12 0 16-6 5-3 3-13 12 4 6-1 3-2 3 0 4-3 3-6 1-6-1-6 1-6-2-9-2-3-7-3-3-4zM1095 2468l-5 3-4 6-9 6-1 3 1 4 6 4 12 4 3 5 3 2 9-2 3-2 0-6 6-6 0-3-3-5-3-1 0-6-3-3-9-4-6 1zM1140 2248l-5 3-1 3 1 3 3 3 5 3 6 1 6 0 9-3 3-4 1-3-1-3-6-3-6-2-6 0-9 2zM1233 2218l-1 0 1 2 3 0 1-2-1-1-3 1zM1140 2401l-10 4-4 3-3 6 0 3 2 6 8 12 10 7 12 3 3 2 18 2 6 0 3-2 5 0 5-3 2-3 2-6-3-9-8-10-6-5-9-5-12-4-15-2-6 1zM610 2266l3-1 2 1-2 2-3-2z"/>
<path fill="#7dff7a" fill-rule="evenodd" d="M231 1611l460 0 0 6 3 2 3-2-1-6 342 0 2 4 3-1 1-3 213 0 0 71-2 2-2 9 1 3 3 0 0 408-3 0-4 3-1 3-1 9 2 3 7 4 0 23-3 2-1 1-2 15 3 6-1 3-8 5-6 1-6 6-9 4-3 2-4 12-5 5-2 4 2 6 3 3 0 6 8 6 7 4 9 10 6 3 3 0 3 0 6-5 0 5-1 1 0 3 1 1 0 19-6-5-3 4-4 8-5 6-3 5-3 11-1 9 2 12 5 7 3 2 3 1 6 0 6-1 0 156-18 1-9 2-12 1-3 2 0 9-4 12 2 6-4 12-9 13-2 8 2 6 3 4 3 2 9 2 6 1 27-3 9 2 0 132-12 8-2 2-421 0 0-3-5-3-1-3 0-3 3-3 1-3-2-3-3 0-3 2-4 4 0 6-1 3-4 2 0 4-102 0 2-3 6-6-1-6 2-3 8-9 7-18 0-6-2-6-4-2-9-1-4 0-9 4-9 1-8 4-2 3 0 6 1 2 6 4 9 1 2 2 1 6 2 3-2 3-6 2-1-2-3-9-2-2-3 0-3 1-5 7-4 3-1 3 0 9 2 3 2 1 3 0 2 5-72 0-3-12 16-3 4-3 3-3 0-3-1-3-4-3-8-2-6-1-12 2-3-1-6 5-3 3-1 6-4 6-1 6 1 6-334 0 0-9-1-1-6 2-6 0 0-341 11-8 0-3-4-3 2-9-2-6-4-2-3 0 0-495 14-2 7-6 1-3-1-3-6-8-6-2-9 0 0-204zM246 1686l-2 4 2 1 1-1-1-4zM285 1856l-12 8-12 14-6 13-2 6 0 3 2 3 3 2 9 2 12 0 6-1 4-3 9-24 1-12-5-6-3-5-3-1-3 1zM315 1674l-3 5-6 2-3 2-3 5-6 5 0 3 6 9 12 9 3 1 9-2 3-2 6-6 2-6-1-6-7-9-6-10-3-2-3 2zM382 2347l-2 1 2 0 0-1zM475 1664l-12 7-12 2-6 2-9-3-3 0-6 1-3 1-2 4 0 3 3 6 0 6 4 3 7 1 6-1 3 5 6-1 3 1 3 4 3 2 6-1 27 5 30 2 15 2 15-4 6-5 12-6 6-1 3-3 1-3-1-5-3-4 0-3 1-3-1-3-3-2-9 1-6-2-3-1-18 1-12-5-12 2-18-2-12-4-9 1zM592 1737l-3 2-12 1-3 2-6 1-3 2-3 0-4 5 0 3 1 1 6 0 3 3 11 2-2 3-1 3 3 9 5 6 2 2 6 2 12 2 6-2 16-10 5-6 12-5 3-1 6 2 9-1 18 1 5-2 1-3-4-6-4-3-4-1-15 4-6 5-9 1-3 1-6-2-6-5-6-2-21 6-3-1 3-4 9 0 3-3 3 0 3-3 3-1 2-1 0-3-5-4-27 0zM616 1646l-9 6-3 4 0 9-2 10 2 3 3 0 6 5 9 2 3-1 9-8 3-5 0-3-2-9-2-3-8-9-3-1-6 0zM703 2242l-6 3-4 6-8 5-3 0-3-3-3-1-2 2 0 3 4 3 1 7 3 2 5 3 4 9 3 2 3 0 3-2 2-3 4-2 7-2 10-5 2-3 0-6-3-5-3-7-9-6-7 0zM731 2117l-3 3-2 2-1 3 0 6 3 6 3 2 3 0 4-5-1-14-3-3-3 0zM764 1755l-6 3-6 10-18 2-1 1-1 9 14 14 3 1 3 2 3 1 12 9 6 2 10 10-3 6 1 6-3 3-3 6 0 3 3 6-3 6 0 6 4 3 12 5 9 1 9-1 9 8 9 4 3 0 3-3 3-5 1-15 3-3 5-3 5-6 1-3-1-6-5-6-6-4-12-4-18-3-9-5-3-2-3-9 18-2 6-7 0-6-3-1-3-3-9-1-3-3-4-1-1-6-2-6-2-3-6-6-18-4-3 0zM830 1644l-9 6-3 3-1 12 1 3 3 2 9 1 12 2 3 0 0-2 0-5-3-9-6-11-3-2-3 0zM866 1665l-6 5-3 8-7 9 0 6 3 6 2 3 8 6 9 6 9 5 17 13 10 10 6 8 6 4 8 5 3 12 4 3 3 1 9-1 15-9 0-3-3-3-10-6-10-9-2-3-1-6 2-18-2-3 0-6 1-3-2-10-5-8-4-3-9-1-12-11-3-1-3-3-3 0-3-2-6-1-3-2-6 0-6 0-3 2-3 0zM962 2320l-3 1-3 3-6 8-9 7-17 18-3 12 0 9 2 6 3 1 10-4 13-18 7-9 9-6 3-6 5-6 1-3-3-5-1-4-8-4zM995 1854l-6 3-7 1-17 23 0 1 1 3 8 8 3 1 9 0 9-5 27-6 4-4 4-9-2-3-3-4-15-7-15-2zM1007 1665l-6 3-2 3-1 4-2 9 4 12 4 3 6 2 13-2 5-3 4-3 1-3 0-3-8-12-12-10-3-1-3 1zM1052 2171l-2 2 0 3-1 9 1 3 2 4 9 0 4-4-1-6-6-9-3-1-3-1zM1061 1695l0 2 3 2 4-3-4-2-3 1zM1161 1779l-6 2-6 5-3 0-3 3-3 0-3 3 0 3-6 6 0 30 3 3-2 3-25 24-2 3 0 6 2 3 3 3 9-1 18 0 13 4 20 2 6 4 12 13 6 11 5 6 1 3 0 6-6 6-16 6-8 6-2 3 0 6 5 6 8 6-2 6 1 6-7 5-6 6-6 3-6 4-3 0-18-14-9-3-6-4-15-5-9 1-14 7-13 9-8 9-2 6 0 18 6 24-1 6 2 12 1 9 4 18 13 16 3 2 10 0 14-6 2-3 6-21 4-6 0-9 4-9 1-12 4-11 3-5 6-8 9-5 6-1 6 2 1 1 2 3 0 9 1 3 3 6 3 6 4 3 10 2 6-1 9-3 5-4 4-6 1-9-2-9-4-9-2-15 1-3 7-6 23-13 11-11 3-6-3-6-3-3-5-3-18-7-2-2-3-15 1-3 2-6-1-6 1-9 0-6-10-37-3-5-6-7-1-5-3-3-1-6-3-3 0-3-3-3 0-3-16-17-3 0-2-1-1-10-3 0zM1179 1707l0 4 6 9 6 1 5-1-1-3-5-9-5-2-6 1zM1200 1738l-3 3-3 0-3 4-2 2 0 3-2 3 0 3 10 9 6 1 3 2 9 1 3-3 6 0 8-7-1-12-4-5-3 0-3-3-21-1zM1203 1713l-1 1 1 1 3-1 0-2-3 1zM1212 2652l-3 2 0 3 3 3 3-1 1-2 0-3-4-2zM318 1740l-3 4 0 3 3 12 4 6 11 9 13 5 6 0 6-2 3-3 3-1 3-3 3-1 1-1 0-6 3-3-3-3 0-3-1-2-3-1-3-2-7-1-14-7-4 0-9 1-9-2-3 1zM442 1836l-3 3-3 0-4 4-3 3 0 3 7 7 6 1 3 3 15 1 12-1 3-3 6-1 7-7 0-3-3-3-4-4-3-1-3-3-12 0-21 1zM517 1803l-6 2-9 0-2 5-4 6 0 3 3 6 0 6 1 3 4 6 2 6 1 12-1 3-9 6-4 1-18 3-6-1-2 3 2 3 5 12 7 7 6 3 12 1 6-2 2-3 2-6-1-15 2-9 8-9 8-6 3-12 1-6 2-9 0-12-2-3-4-3-6-1-3 0zM571 1890l-9 4-9 15-3 2-12 3-9 4-8 6-4 5-3 7-1 9-1 3-7 12-5 6-1 4-3 2-3 2-3 0-18-6-15-4-3 1-6 4-3 0-6-1-6-4-3 0-6 2-1 3 2 3 2 3 0 9 5 24 1 9 2 6 10 11 9 5 6-2 3-2 3-4 2-5 7-9 1-6-1-3 4-12 2-3 9-7 8-8 4-6 3-1 12 2 9-2 12 1 3-2 3-7 10-9 3-9 2-3 9-7 6-3 6-9 14-11 5-6 1-3-2-3-12-3-12-6-3-1zM589 1812l-6 2-2 2-2 6 0 3 4 6 9 6 3 1 18 0 15-4 3 1 6 2 3 1 6-3 15-1 9 1 6 0 3 2 4 6 5 4 3-4 0-6 0-3-3-3-9-6-12-5-9 1-9-1-9-3-9-1-9-4-6 1-21-2-6 1zM688 2332l0 1 3 3 8 0 0-3-2-1-6-2-3 2zM764 2112l-3 2-1 5 3 3 1 12 9 1 8-4 4-6-1-6-2-3-3-3-6-2-9 1zM767 1975l-2 3-1 3 1 6 7 15 0 9 3 3 4 0 9-7 3 0 6 2 1 2-1 6 3 3 27 1 6-2 3-3 3-8 1-6-4-9-3-4-12-5-30 0-18-10-3-1-3 2zM836 1887l-2 4 5 12 3 15 3 5 3 4 6 4 12 6 6 2 3 2 3 4 1 9 5 7 12 7 6 1 3 0 2-3 2-12-1-2-7-7-3-6-5-6-1-12-3-12-10-15-4-4-9-2-12-2-12 2-6-1zM866 1784l-3 7-1 7 1 6 4 3 5 1 3-1 3-3 3-9 1-6-2-3-5-2-6-1-3 1zM941 1999l-6 3-6 6-3 6-2 6 1 6 1 3 6 6 3 1 6 1 3-2 11-15 1-3-3-9 2-6-2-3-3-2-9 2zM1004 1935l-10 10 0 3 2 3-1 1-9 1-3 2-5 5-3 6-5 15 0 6 16 15 6 1 6-2 12-8 2-3 2-6 0-3-3-15-2-6 16-2 3-3 3 0 4-4 0-9-7-7-24 0zM1067 1735l-3 3-3 1-1 2 0 3-3 3 0 6 3 3 0 3 1 1 3 3 3 0 8 8 0 6 5 4 3 0 3 3 6 0 3 3 3-3 6 0 10-10 1-12-3-3 0-3-5-6-3 0-3-3-12 1-1-4-8-9-13 0zM1113 1941l-3 3-3 0-4 4-1 3 8 8 6 0 3 3 9-1 3-3 3 0 7-7 0-3-7-7-21 0zM1095 2332l-9 3-6-2-3 1-3 2-3 6-5 6-4 9-8 12-1 6 0 6-1 3-6 2-6 1-36 20-21 4-12 5-23 16 5 5 3 4 6 3 9 0 9-3 12-1 18 4 9 0 9 1 18-1 6-3 9-6 0-6 2-3 4-3 3-1 3-3 4 0 6-5 6-1 3-2 3-3 3-6 2-9 3-6-1-3-4-3-3-3-2-3 1-9-1-6 4-6 1-6-1-12-2-4zM1122 2242l-6 1-4 2 0 3 0 3 3 3 1 8 3-1 1-4 2-6 6-4 3-3 3-1 0 2-3 3-5 6 2 3 3 4 7 5 5 7 6 6 3 1 12-2 8-3 3-3 3-15-1-3-3-3-7-5-12-3-18 0-3-1 0-1-3 1-3-2-3 0-3 2zM1137 2187l-2 4 0 3 2 5 3 2 3-1 1-3-1-9-3-1-3 0zM1245 2133l-1 1 1 3 3 3 3-2 0-1-3-3-3-1zM1206 1730l0 4 0-4zM327 2000l-2 2 2 1 1-1-1-2zM514 2049l-6 7-15 2-9-1-12 3-6 2-12 12-8 9-3 6 1 6 4 6 9 7 6 8 16 15 2 3-1 3-3 6-2 9 2 15 4 6 3 2 6-1 6 0 3-1 4-6 1-3-2-9-2-6-5-9-2-9 3-6 1-6 8-15 2-9 1-9 3-8 3-4 9-1 12-3 4-5 1-3-2-6-3-3-18-5-3 1zM571 2185l-12 2-3 1-4 3-5 12 0 16 7 11 6 6 4 9 7 12 13 18 14 24 3 3 3 1 6 2 6 2 8 2 4 2 3-1 12-7 3-19-1-3-6-6-2-7-4-8-1-6-3-9-7-7-4-8-1-3 1-3 4-6 0-3-5-9-1-10-10-8-8-3-18-1-9 1zM770 2453l-27 1-9 6-6 14 18 17 3 2 9 1 3-2 3-6 6-6 3-5 9-5 4-8 1-3-2-2-6 0-9-4zM800 2054l-2 2 2 1 2-1-2-2zM812 2048l-1 2 0 6 2 6 2 3 3 2 3 0 2-2 1-3 1-6-1-1-6-2-3-6-3 1zM875 2492l-1 0 1 3 4 3 29 15 3 3-2 6 6 18 6 6 2 6 3 3 3 0 9-4 6-1 15 6 9 0 7 5 8 15 12 7 18-3 27-1 9-1 12 3 16 1 12 5 4 1 2 2 6 0 3 3 6 1-9 2-5-2-5-3-4 18 1 9 1 3 3 2 12-3 3 2 3 3 3 1 3-2 3-6 3-2 21-6 12-2 24 7 13 3 8 0-1-3-4-3-17-9-38-18-51-22-12-7-9-1-10-5-12-3-49-19 5-12 5-6 14-9 1-3-1-3-5-3-6-2-9 2-9 3-9 2-12 5-9 1-3-2-3 0-15 1-3 2-6 1-3 0-34-10-14-3-6 0zM974 2322l-2 2 5 2 3-2-3-2-3 0zM1001 2073l-6 5-2 5 1 9-1 9 2 9-2 6 0 15 4 12 4 6 2 3 1 21 3 9 5 9 4 1 6 0 6 2 4-3 1-3 5-6 0-3-3-3-7-3 1-3 2-2 3-1 6 5 2-2 2-6 6-6-2-9 1-18-3-6-14-12-2-3-14-27-3-9-3-1-6-2-3 2zM1083 1873l-3 3 1 3 2 1 1-1-1-6zM1101 2455l-6 2-6 0-9 4-9 13 0 3 3 15 2 6 4 3 6 2 5 7 7 6 3 1 9-1 6-5 3-3 2-13 0-12 2-9 0-3-3-6 1-6-2-3-3 0-6 1-9-2zM1134 2387l-7 6-2 6-3 6-1 3 1 3-3 3 0 3 2 3-1 3 0 3 2 9 1 3 5 6 6 4 3 2 9 1 9-2 12 0 3 2 3 0 9 0 3-3 6 0 3-3 3 0 1-1 0-3 3-3 0-6-3-3 0-3-8-9-4-9-10-6-9-3-6-3-9-2-9-6-6-2-3 1zM454 2610l-2 2-3 6 0 15 2 2 6 1 3 0 3-3 6-7 1-5-1-4-5-5-4-1-6-1zM553 2554l-12 7 0 6 3 9 12 2 6 2 3 0 5-4 5-3 1-12-1-3-10-6-12 2zM595 2314l-4 4 0 3 3 6 1 3 1-3 2-1 3-3 2-2 1-3-1-3-2-2-6 1zM821 2558l-6 1-6 3-3 2-6 9-9 3-7 6-8 4-7 5-2 3-4 18 1 3 6 8 9 3 3-1 9-5 3-8 3-2 6 1 3-2 15-14 12-4 17-9 2-3-2-6 5-6 1-3-1-3-1-1-3-2-6-1-9-1-15 2zM911 2644l-1 1 1 3 3 1 3 0 1-1-1-4-3-2-3 2zM950 2573l-4 3-6 3-3 3-1 3 1 12 1 1 3 2 4-3 6-12 5-6-1-3-2-3-3 0zM559 2624l-4 3-7 9 0 3 2 3 12 8 3 1 6 2 6-2 2-3 0-3-5-11-3-4-4-3-2-4-3-1-3 2zM693 2705l2 0 3 3 0 6-6 0-2-3-3-3 1-1 5-2z"/>
<path fill="#b4ff43" fill-rule="evenodd" d="M245 1611l58 0 1 3 0 3-2 3 1 3 3 3 1 3-2 3-6 6-2 4-3 2-1 3 0 9-2 5-6 3-2-2 2-6-3-3-6 1-11-4-1-3-2-6-2-9 2-3 3-3 1-3-1-3-4 0-3 1-6-2-3 1-3-1-1-5 0-3zM369 1611l33 0 1 6 5 12 0 3-4 6 0 3 3 6 3 12-1 7-3 2-4 0 0 3 4 6 0 10 5 9 1 6-2 6 2 1 9 0 9-1 15 6 12 2 12-1 9 0 24 4 18 0 9 3 15 7 12 5 3-1 1-1 3-9 9-12 17-10 18-2 12 2 15-1 3-2 4-2 5-9 2-3 0-6 5-10 0-3-7-5-9-16-1-6-2-1-9-8-6-1-6-3-4 4-10 9-4 9-4 3-2 7-3 2-15-3-4-3-3-6-2-1-3-2-6 0-3-2-2-4-1-6 0-3 3-4 7-2 5-3 6 0 3-1 2-2-2-6 109 0 2 9 1 6-2 9 0 6-3 12 0 3 2 6-1 9 0 5 3 3 6 4 6 0 7 4 5 1 10-2 6-4 3-1 6 0 3 0 1-3 0-3-1-2-3 1-4-3-1-3 2-3 3 0 3 3 3 5 3-1 9 3 9-3 6 2 3 0 6-3 4-3 0-9-2-3-5-4-12-4-9 0-6-3-6 1-3 1-2 3-7 8-3 1-3-3 1-6-5-6-1-3 1-6-1-6 5-9 0-9 211 0-4 12 2 6 7 5 18 5 3-1 9-6 15-7 6-6 3-2 3-3 1-3 27 0 1 9 4 6-1 9-1 3-7 9-12 9-9 9-3 3-1 3-1 10 1 6 2 6 5 7 9 6 6 0 18-4 6-2 3 0 12 7 3 2 6 8 9 7 5 2-2 2-3-1-3 1-3 3-1 7-2 0-2 3 0 3-2 3 0 6 3 3 0 3 1 1 3 3 3 0 8 8-1 3 0 3 3 3 3 2 3 0 3 3 6 0 3 2 3-2 6 0 11-11 1-4 9-6 3-4 3-3 3 2 3 1 0-1-3-3-3-2-7-7-11-3-11-3-6-9-4-10-3 0-4 1-2-3-1-6-5-6 2-15-1-15 2-3 5-7 0-3-2-3-3-9 1-6 0-6-3-6 1-3 4-3 3-6 6-6 0-6 84 0 0 6 3 5 4-8 2-1 3 0 2-2 27 0 6 9 2 9 2 6 3 3 1 6 0 3-4 6-2 9-1 3-6 6-1 4-7 6-2 9-2 3-3 0-3-4-3-2-12 1-15-6-9-1-9-4-2 7-4 6 0 3 4 3 1 3-2 6 1 3 8 5 6 2 5 8 10 7 12 11 0 3-3 3 0 3-2 3 0 3 11 10 6 0 3 3 9 0 3-3 6 1 9-8-1-12-5-6-3 0-3-3-1 0 5-15 3-15 2-2 6-3 15 3 6 0 0 240-6 3-6-12-8-7-13-17-1-4-1-12 1-27-9-18-7-9-1-6-3-3 0-3-9-9-1-3-3-3 0-3-3-3-1-3-16-17-3 0-1-1-1-12 2-3 0-2-12 0-9 5-6 4-6 2-2 3 0 9-3 9 0 3 2 10 0 6-3 8-2 3-16 15-12 7-6 1-9-1-3 1-18 1-7 2-12 0-9-5-24-9-12-7-12-3-12 2-6 2-3 1-3 1-8 10-5 3-4 9 0 3 3 6 3 9 9 18 1 3 0 6 1 3 6 11 3 0 10-14 5-5 6-3 6-2 18-1 3 1 6 3 3 0 12-5 2-3-1-9 2-2 3 0 6 2 6 1 9 1 10 5 3 1 20-2 4-2 9-2 21-6 21 2 3 0 10 8 5 5 3 6 5 4 1 12-1 9-2 3-14 15-1 6 3 3 1 3-4 8-3 3-18 6-14-5-7-6 6-1 3-3 3 0 8-8 0-3-8-8-21 0-3 3-3 0-6 5 0 5-6 1-3 2-3 4-16 14-6 4-14 15-1 3-1 15-3 9 1 18-1 9 4 12 1 9-1 4-3 1-3 0-6-2-1 3 3 3 1 3-1 3 13 7 9 12 19 12 3 1 6-3 6 0 12-3 3-2 8-9 4-18 6-12 7-9 5-13 3-1 3 1 6 3 9 0 9 3 15-2 18-9 8-6 2-3 2-6 0-9-6-18 1-9 2-3 9-9 27-15 6 1 0 130-6 0-7 4-3 3-5 9-3 3-14 18-4 10-3 2-7 3-5 6-10 6-2 5-6 2-2 2-4 3-15 3-6 2-3 0-3-1-3-4-3-1-6 3-8 4-4 7-6 5-6 9-3 3-2 3 0 9-4 13-3 0-3-2-8 1-1 1-5 5 1 3 4 2 2 4 0 3-11 6-7 1-12 7-6 2-3 2-1 12 4 16 1 15 3 9 1 3 0 9-2 6-1 12-2 5-4 7-4 9-4 9-12 13-3 2-15 7-12 7-12 2-24 6-3-1-12-6-3-2-3-4 0-6 3-9 8-12 16-15 6-8 6-4 6-7 7-2 4-3 10-14 2-10 3-3 2-3-1-3-3-5-6-2-6-7-3 0-3 2-5 9-2 6-4 3-13 7-18 4-9 10-12 9-3 3-14 6-1 6-1 9-2 9 1 9-1 12 2 9 4 6-1 3-2 6-3 9 3 13 2 5 1 6 2 3 4 2 6-1 21 3 12 1 18-4 15-1 12 3 9 0 9 2 15 5 6 6 6 4 2 4-1 3-2 3-2 1-6-1-3 3 1 3 4 3 1 4 6 3 6 11 6 2 6 7 10 6 3 5 3 2 12 2 24-6 3-2 2-4 1-3-1-9 0-15 4-27 3-3 6-1 24-4 12 0 6-2 4-2 5-1 3-3 3 0 2-2 0-3 3-3 0-6-3-3 0-3-2-3 0-12-2-3-10-10-30-11-4-3-3-6-2-9 1-9-2-9 2-6-1-3-15-5-6 2-6 5-3-1 0-19-6-9-1-3 2-9 2-3 7-3 8-17 3-2 3 2 3 7 2 1 16 1 18-4 12-7 6-6 1-3 1-6 4-12-2-3-7-4-3-1-9 0-13-7-8-1-9-5-3-3 6-14 12-9 3 0 6 3 6 1 6 2 6 0 3 3 1 5 1 12 2 3 2 3 6 1 3 5 3 2 12 5 5 5 3 9 3 6 1 4-5 11 0 10-2 21 5 21 2 3 6 5 9 2 9-1 0 141-12 0-3 2-15 0-12-2-9 0-3 0-3 2-1 4 1 21-2 9 1 9-4 9-4 18 1 6 3 6 8 4 12 5 24-3 18 2 0 101-18 3-9 3-5 8 0 6 3 6 1 9-41 0 0-6 3-6 2-9 4-6 1-6 2-2 3-1 6 0 6-1 6-5 9-4 5-5 1-6-3-9 0-9-1-3 1-1 13 1 0-3-4-3-27-15-3 0-3-3-3 0-3-3-3 0-3-3-3 0-3-3-3 0-11-6-4 0-3-3-3 0-4-3-2 0-4-3-5-1-3-2-3 0-3-3-3 0-5-3-4 0-3-3-3 0-3-3-6-1-3-2-3-1-3-2-27-10-3-2-23-9-5-4-9-1-24-9-8-4 2-3 3-3 5-6 15-12 3-6 1-3-1-9-2-3-3-1-9-3-3 1-24 4-27 6-9 3-18-1-9 1-3 0-4-10-11-13-6-5-5-9-10-1-6-5-6-9-1-3 0-6-1-3-7-4-6-13-6-5-6-2-15 3-5 3-4 5-9 2-3 2-3 5-1 7 7 6 9 4 6-1 9 1 3 2 6 7 2 5 2 6-7 15-6-1-9-2-6-1-2 1 0 3 8 6 16 9 4 3 7 10 3 2 6 0 9 6 6 3 3 3 2 15-3 12-2 2-15 4-12 0-6-2-6-1-9 2-18 0-9 1-12 5-9 7-9 4-13 2-4 3-1 3-8 6-7 4-3 0-4 2 1 6 2 9 1 25 6 10 6 4 3 3 6 1 6 4 9-1 2 2 2 3 0 3 5 0 9-8 3-5 6-4 2-4 3-3 0-6 4-12 2-3 10-8 15-9 12-11 3-1 9 4 3 0 12-3 6-5 3-1 15 2 2 2 2 6 5 9 1 3-3 6-4 5-3 1-9 0-3 2-3 4 1 9-4 3-3 1-1 2 0 9-1 9-4 9 3 2 3 1 6-4 12 4 12 0 6 3 9 2 4 7 3 3 20 6 3-1 9-8 3-7 3-1 6 1 6-4 2-4-2-9-3-3-6 0-6-2-9-8-12-6-3-5 0-12 2-3 7-4 6 1 9-7 6 1 10-12 26-5 33-2 15 4 5 3 3 3 1 3 1 6-2 15-4 6-7 6-2 6 2 3 8 6 4 5 4 1 9-4 3 1 3 10 7 8 0 3-1 2-6 2-4 2-1 3 1 3 4 4 9-2 14-14 7-3 3-2 3-6 5-4 0-3-6-12 0-6 0-3 2-3 3-3 14-6 6 0 6-3 3 0 10 3 2 1 7 2 3 3-4 6-7 6-2 3-2 6 3 6 0 3-1 1-9 0-6 2-9-2-5 2-2 3 4 3 1 3 0 3 4 9 1 9 0 3-4 9-1 9 1 6-53 0-2-6-3-6-1-6-3-5-3-7-3-1-10 1-6 1-6 0-6 2-6 1-3-2-1-11-6-6-2-6-7 6-5 6 1 3 2 1 12 13 1 4-4 4-6 1-9 4-6 6-2 3-74 0-2-3-6-1-5 1 0 3-26 0 0-3-2-2-6-1-3-1-1-2 2-6-7-7-1 4-2 2-3 0-3-3-1-2 1-2 3-3 2-1-3-12 0-3 2-6-1-2-7-4 0-6-2-3-9-1-9-3-6-1-12-4-3 0-3 1-3 2 0 6-2 3 0 6 1 6-1 3-4 2-4 4-7 6-1 3-1 6-2 3-9 2-3 0-6-3-9 1-4-3-1-6-7-4-3 0-6 2-3-1-5-6-1-3 0-6-6-13-18-11-13 1-6 2-12-2-6 1-3 1-7 6-4 9-1 3 0 9-2 3-4 4-4 11-4 24-38 0 3-9 4-3 6-2 3-3 3-4 0-3-1-3-2-3-6-3-11-3-1-8-4-7 0-6-3-9 0-3 1-1 6 0 3-5-2-3-7-3-1-3 2-3 2-3 1-3-2-3 0-3 3-6 1-6 4-6-1-3-4-6-1-3 1-3 5-3 2-6 9 7 3 0 6 0 6-6 3 0 3 0 6 4 12 0 12 16 2 6-2 6 3 3 9-1 6 2 3-1 8-6 1-3 1-12 3-3 6-3 9-2 6-3 1 2 5 2 1-2-1-3-6-2-3-11-3-5-9-2-12-7 0-3 2-3 6-3 0-3-2-6 0-3 3-3 6-15 4-6-4-2-6-4-7 4-9 2-12 4-12 0-10-4-8-6 2-9-2-2-3-2-3-7-5-4-2-3-1-6 2-9-1-3-5-4-21-10-3-4-7-6-14-14-6-3-3 2-3 2-3 1-12-1-6-3-6 1-6-2-12-1-8 3-7 0-3 1-2 2-5 9-2 9 1 3 3 3 13 9 4 8 3 1 6 1 3 1 3 4 6 2 1 4-4 6 0 3 12 9 2 6 4 1 6 1 9 2 12 12 1-1-1-3 3-2 6 2 9-1 9 2 3-1 3-5 12-8 6 4 7 0 2 3-1 6-2 3-2-6-3-3-1-3-3 6 3 6 3 0 3 3-2 6-3 3-2 3 0 12-2 9-3 3-6-3-3 1-12 4-8 1-7 3-11-3-7-7-12-3-18 0-9 3-9 0-5 10-5 6-1 3 1 3 2 6 2 9 3 6 3 2 3 0 9-1 6 0 3 2 1 3 1 9-2 3-6-2-3 2-8 12-10 0-3 2-3 4 0 3 15 20 3 2 6 1 6 4 4 3 5 8 6 3 3 4 1 12-5 9-2 9-1 6 0 6-86 0-1-6 1-3 7-9 3-6-1-4-7-5-5-6-3 4-3 1-6 0-9 8-3 2-7 0-11 7-2 2-1 3 2 12-30 0-4-9-1-6-4-9 0-9 2-9-1-12-1-3-6-6 0-6-4-9-1-3 0-1-3 0-2 1-1 6-3 3-3 9-4 9-2 6-7 12-3 6-8 2-6 7 0 3 2 3 1 3 0 6 0 6-38 0 4-6 3-2 6 1 2-2 2-3 0-3-4-6-1-6-7-9-7-5-5-7-10-9-2-6 0-6 2-3 5-6 1-3-1-3-5-8-12-13-6-1-8-14-7-7-9-2-15 0 0-42 3 0 3 1 2 2 2 6 5 2 3 0 12-3 6-6 3-2 3 1 3-2 6-5 2-6 7-7 5-2 1-3-2-3 1-3 5-6-1-9 1-12 2-3 3-2 6 0 6 1 9 6 5 10-1 6 2 6-3 9 3 6 0 3-3 7-3 1-9 0-3 1-4 3-2 3 0 3-8 3-1 3 0 9-1 6 2 3 8 6 6 1 10 11 5 2 3 0 3-8 0-3-4-6 7-6-2-6 5-6 5-12 8-8 9 5 3 0 3-6 0-3-3-6-3-12-6-9 0-3 2-3 4-2 15-3 3 6 3-2 1-5-4 0-2-3 2-2 3-1 3 5 6-2 6-4 6 1 6-1 6 0 3-1 3-5 3-3 6 1 3-1 3-2 2-3-2-3-15-3-3-2-2-1 1-3-2-3-12-5-12-10-15-2-3 1-6 9-6 6-9 0-6 2-6 2-4 2-3 0-1-2 1-3 6-9 0-3-3-3-1-6-2-3-12-5-9-8-9-11-6-4-3-5-3-2-6-3-3 1-6-4-6-1-6-4-3-1-3 0 0-1 3-3 1-3-4-15 1-6 2-6 12-6 11-9 4-3 3-3 0-12 3-3 9 2 6-1 6 4 3 0 3-2 3-3-1-12 2-6-4-6-2-7-4-5-3-3-3-2-3-2-4-6-4-15-12-15-4-3-3 0-9 1-12-6-9-7-4-9-2-3-3-1-3 2-3 0-6-1 0-96 15 1 12 2 6 1 3 0 3 2-5 6 3 9-4 6 0 6-3 6 0 3 1 3 6 3 2 6 9-4 4 1 2 3-1 6 1 8 3 4 5 3 3 3 0 3 0 3-6 6 1 3 3 3 9-4 9 1 9-3 3-3 5-6 3-12 0-3-3-6 2-3 1-3 0-3 3-9-1-6 1-18 3-6 0-6 5-6 12-5 5-4 4-5 1-7-1-3-4-3-2-5-3-2-3 0-13 3-6 0-9 8-6 0-6 2-15-1-6 2-3 2-3 7-3 2-9 2-5-5 0-3 0-6-1-6-9-17-3-1-3 2-1 1-2 4-3 1-15 1 0-64 4-2 8-2 3 0 3 2 8 12 1 7 5 5 0 6 4 6-4 6 1 3 3 0 3-1 6 3 6-3 9 0 3-2 2-3 4-9 6-9 9-12 3-2 9 1 19 3 15-5 9 0 6 1 3-1-2-3 0-6-4-3-11-12-4-4-19-8-3-1-9 3-18 2-3 2 1 6-2 3-5 5-15 6-3 0-7-5-5-7-15-5-4-6-7-3-7-9-6-2 0-124 12-1 9 0 12 4 3-2 3 0 1 2 0 3-6 3-4 12-5 9-4 7-8 8-2 9 0 3 4 6 12 4 9 1 15-1 6-1 3-3 3-3 14-39 0-9 3-3 7-5 12-4 13 0 18 4 6-1 6-4 11-2 6-3 7-6 3-9-3-10-3-1-4 5-2 0-12 0-12-1-6 2-15-1-10 2-9-1-9 2-6 3-6 3-4 3-8 9-3 1-9 0-6 2-3-1-2-5 1-6-1-6-21-21-4-3-3 0-9 2 0-31 6 0 1-1 0-3-2-6-2-2-3-1 0-55 9-1 9 3 9-1 6-2 9 2 9 0 6 2 8 7 4 5 5 4 2 3-3 6 0 6-1 2-6 4-3 4-4 8 0 3 1 1 24 8 12 10 19 8 6 2 6-2 6-6 8-12 0-6 3-3-3-3 0-3-3-6-4-3-10-8-12-4-3-3-3-6 1-3 8-11 6-4 5-6 1-3 0-3-2-6-2-3-11-8-7-2-3-2-3-7 3-15 3-6 3-2 7 0 6-5 3-2 9 2 3 0 3-2-2-9 2-6-1-6 0-3zM418 1743l-4 4 1 6-3 12 1 6 5 0 15-3-2-9-4-8-6-7-3-1zM592 1736l-3 2-12 1-3 2-6 0-3 3-3 0-6 6 0 3 3 2 6 1 1 3 0 12-4 4-15 2-3-2-2-1-1-6-5-9-4-3-9-2-9 2-4 3-6 12 11 6 2 3-1 3-5 3-9 3-14 3-7 9 0 6-7 9 1 6-1 6 1 1 6 2 3 3 6 9 0 4 0-1-9-9-3 0-3-3-2 0 0-3-1-1-6-1-3 2-1 3-20 1-3 3-3 0-8 8-1 3 9 9 2 0-2 6 1 3 5 4 12 6 6 4 6 10 10 9 5 3 12 3 6 4 6 0 6-2 1 1-2 6-1 9-3 18-4 6-6 7-9 4-6 0-12-1-12-4-15 2-3-3-4-8-2-12-11-21-2-9-2-3-6 1-3-1-4-6-14-7-9-1-15 3-3 2-2 3-6 6-4 8-7 4-3 3-1 3-4 18 4 3 8 2 9-6 3 0 15 1 9-4 3 0 16 16 2 3 3 12-1 9 10 18-1 9 5 6 0 3-2 12 1 12 3 6 6 3 3 3 1 3 0 3-4 6 2 9-1 3-8 18 1 9 4 6 8 9 9 2 11 7 5 6 3 9 0 3-2 18 3 9-1 3-4 6-9 4-6 8-7-6 3-6-4-6-2-6-1-3-4-3-6-9-3 0-6 3-3 0-6-3-3 0-2 3-1 6-3 4-3 10-6 6-6 1-3 2-3 5-1 2 1 9-3 9-1 6-5 9-1 3 3 9-1 3-7 6-3 4-7 2-1 3 5 6 3 1 9 0 6-7 15-4 6 0 3-2 12-14 3-2 3 0 6 1 3-1 1-2 1-3-1-3 1-3 4-1 3 1 6 6 0 9 3 12-1 6 2 9-1 3-2 9-4 9-15 4-21 11-5 7-1 3 2 3 0 3-2 3 2 6-5 3-6-3-3 1-9 5-6 5-6 2-6 0-9-2-3 1 0 3 3 3 4 6 2 1 3 2 4 6 8 6 7 9 0 3-3 6-2 12 1 14-6 2-2 2 2 3 2 0 4-3 3 2 3 1 6-2 12 1 5-5 2-6 2-12 11-9 2-3 1-9-1-6-7-4-3-2 0-6-5-6-2-3 0-3 4-6 0-6 2-3 4-3 6-2 6-5 3-1 12-2 6-8 3-6 3-3 3 0 6 1 10-1 1-4 0-3 3-9-1-6 1-3 3-3 5-3 8-9 2-9 8-15 1-9 7-15 0-9 1-3 3-3 2-9 4-6 0-9 1-6 0-15-2-3-2-9-3-3 0-3 7-12 0-9 4-12 2-3 4-2 9-1 9 2 1 1 1 12-3 12-2 3-1 3 5 9 8 2 6 3 6-1 9 4 6 1 6-3 2-3 4-9 3-4 12-4 3 1 3 5 4-1 2-3-2-12-1-1-6-3-3-5-3-3-7 0-5 3-1-3 2-3 0-3-13-18-12-3-5-6-9-3-13-10-9-1-6-4-6 0-6-2-3 0-6 3-3 2-6 5-3 1-10-3-4-3 0-6 5-21 7-9 2-5 3-2 6-2 6-7 3-2 3-1 9 3 15-3 9 4 6 1 6 2 6 0 6 3 3 0 5-3 5-6 5-3 12-5 4-7 3-9-3-12-1-3-4-3-7-9 1-3 8-12 5-3 12-4 15 3 18 0 3 1 6 3 9-2 9 2 9-6 9-5 7-10-1-9 1-9-2-6 0-6 5-24 5-9 0-3-6-4-6-3-9-5-9-4-12-4-21-1-11-3-7-3-6-5-7-4 1-3 6-6 8-9 13-7 18-2 18 2 7-2 5-5 2-4 1-6-3-7-6-5-12-3-6 1-21 5-9 0-3-1-6-2-6-1 0-2-6-6-27 1zM758 1749l-6 5-10 14-8 1-2 2-1 6 0 3 5 6-2 9 1 6 11 4 9 7 6 3 8 13 0 3-4 6-1 6-3 1-3 3-5 8 0 9 3 9 20 1 3 2 6 0 3 3 12-1 6 1 8 6 7 8 7 16 3 9 6 12 8 4 9 8 9 6 12 11 6 8 6 5 18 5 6 0 3-1 3-4 1-3 1-9-3-9-10-15-3-6-2-15-5-15-6-9-9-8-3-1-21-6-6-3-3-4-2-8 11-9 3-5 1-4 0-6-1-3-6-6-9-6-9-3-21-4-6-3-5-5-1-3 9-2 7-7 0-6-1-1-3-1-3-3-9-1 0-12-3-9-4-3-8-4-18-6-6-1-6 1zM830 1632l-15 12-7 9-3 9 0 9 1 4 6 3 12 2 14 7 10 15 9 8 18 11 15 11 5 6 5 9 5 12 2 9 1 1 7 2 3 9 14 12 3 1 3 0 18-10 13-3 11-6 4-6 0-3-3-3-28-15-9-10-2-5-1-9-2-3 0-3-3-3 0-6 5-6-1-6-2-9-6-7-3-3-3 0-12 1-9-7-3 0-3-3-3 0-3-3-6 0-3-3-12 0-3 2-3 0-3 3-6-1-4-4-5-8-6-17-3-3-3-2-3-1-3 1zM1004 1935l-11 10-1 2-3 0-7 1-8 5-6 10-4 12-2 3-15 8-9 1-6 2-8 7-1 3-4 15 1 12 2 3 1 6 6 5 15 5 3 0 9-13 6-6 3-6 6-5 9-4 9 0 12-2 12-7 3-3 3-6 1-9-6-24 11-2 3-3 3 0 5-4 0-9-8-8-24 1zM782 2660l2 0-2 0zM884 2625l-1 2 1 2 2-2-2-2zM887 2624l-1 0 1 0zM1001 2639l-3 1-5 5 0 3 5 3 3 0 3-1 2-5-1-3-4-3zM1028 2652l-2 2 1 3 1 4 3 2 3-6-1-3-5-2zM622 2624l0 9-3 6 0 3 3 2 3-1 2-4 9-6 2-9-1-2-9-1-3 0-3 3zM646 2612l-1 3 1 2 5-2 0-3-5 0zM339 2597l-1 3 5 0-4-3zM433 2569l-3 1-6 7-4 8 1 3 6 3 3 3 4 15 4 6 0 15 2 6 8 6 12 4 9 5 3 2 6-1 1-1-4-9 4-9 0-6 3-9-3-9-5-6-2-5 1-13-1-5-3-2-9 0-3 1-6-3-18 0-1 0 4-6-3-1zM403 2003l-3 2 1 6 2 3 3-1 1-2 1-3-1-3-4-2zM412 2408l-2 3 2 4 3 0 3 0 1-1-1-4-3-1-3-1zM583 2169l-6 4-9 0-6 2-9 6-8 7-3 3-3 6-3 12 1 9 2 6 13 21 9 9 10 13 7 14 2 3-1 7 3 9-2 9-3 2-6 0-6-3-12-4-3-2-9-1-8-7-3-6-3-10-7-6-3 0-6 3-9 9-6 16-4 3-1 3 2 1 3 0 3 3 1 5-1 1-6 0-9 7-4 4-14 9-1 3 0 3 5 12 1 6-1 3-4 6-6 3-9-3-11 9 0 3 1 3 3 3 0 3-2 12 9 0 6 5 3 1 6-2 6 2 12-2 9 2 6-1 3-2 3-3 0-3-2-3 1-3 4-6-1-9 1-3 5-6 2-3-4-3-7-3-3-15 4-13 2-2-1-3-4-3 3-2 3-1 9-3 6-7 3-2 6 1 6-2 1 1 0 3-2 3 0 3 1 3 4 6 8 8 6 3 9-1 3 1 15 5 6 4 7 7 8 11 7 4 2 3-1 3-2 2-4 1-2 1 0 5 0 3 3 1 6-2 6 3 3-1 3-8 3-4 9-1 3 2 4 4 4 3 0 3-3 9 1 9 2 3 4 3 3 3 0 9 3 3 1 3 26 15 17 0 4-3 2-3 2-9 5-9-1-9 4-6 0-3-2-9-10-9-4-6 2-3 2-2 7-2 3-2-6-4-3-2-1-4 4-1 9 0 0 5 3 3 6 0 6-3 1-3-1-6 2-12 4-4 6 1 3-9-1-6 1-6-4-9 1-3 3-1 3-3 0-5-1-3 0-3 5-3 5-6 3 0 6-4 5-3 1-3 3-1 6 1 15 6 9 0 6 3 3-1 12-7 6-3 9-13 2-6-1-6 1-3 5-6 1-3-1-3-1-2-3-2-3 1-3 3-3 1-3 1-3-1 1-7-1-5-6-10-3-2-3-1-12 4-6 4-13 4-5 4-6 3-3 6-6 3-2 2-4 9-4 6-1 9-3 3-4 2-12 2-3-2-5-14-6-15-4-4-16-5-9 0-6 2-6 0-17 10-4 5-12 3-6 5-3 0 0-7-5-6 0-21 0-3-4-12 1-9-5-9-2-9-3-2-3-1-6 2-12-1-6-2-6 0-6-3-3 0zM664 1947l-3 1-6 9-9 6-3 12 0 6-1 6 1 6-1 6 6 6 1 6 3 1 6 1 6 3 9 0 4-2 5-6 1-6 5-1 6-3 3 2 9 2 1 12 6 6 9 0 9 4 6 6 6 0 3 2 6 9 9-5 3 2 3 8 4 4 5 12 4 6 0 3-1 3 1 9-1 1-6-1-4-3-2-3-3-1-7 7-11 5-8 7-3 3-4 11-9 1-3 2-6 3-3 3-4 5-10 8 0 3 1 2 3-4 4 2 0 6 2 9 1 9-4 12 0 3 2 3 5 3 3 3 3 0 9-3 9-6 4-9 5-6 3-2 9-3 12 6 3 0 6-1 12 2 4 1 1 3 0 6 2 3 2 2 9 4 3-1 6-5 3 0 6 5 3-1 3-2 3-1 12-3 3 1 3 3 6 1 6 4 6-1 3 1 3 2 3 1 1-1 5-8 5-7 1-3-3-9 1-6 0-3-6-9 2-12-3-11-9-13 0-3 2-9 1-15-2-9-7-12-21-21-1-12 4-9 1-6-2-12-3-6-8-6-15-7-12-2-6 1-9 0-3-2-3-5-3-3-6-1-3-2-6-5-6-3-6 0-5 2-9 6-7 7-3 1-3 4-3 1-9-2-6 2-3 0-4-2-3-6-9-3-9-8-8-3-4-3-3-1-6 0zM869 1776l-3 1-3 1-3 4 0 1 2 3 0 6-3 3 0 3-2 2-2 1 0 6 2 5 3 2 6 2 9-1 9-5 4-9 5-6 1-3-3-6-5-6-5-2-12-2zM995 2052l-2 1-2 3-3 9-2 7-4 8-1 6 3 9 0 6-1 3-6 9-1 12-3 6 0 3 6 12 3 9 7 5 4 4 1 3 4 36-3 12 2 18 1 4 5 5 2 3 2 2 12 2 12 4 6-2 3-6 3-2 9 0 3 5 0 1 3 0 4-4 0-6-5-6-2-6 1-3 2-6 2-3 1-1 6 0 2-2 0-3-3-3 1-1 6 4 4 2 3 4 3 1 8-7-3-6 0-3 1-6-2-3-5-3-4-6-11-12-8-21-1-3 6-27 0-6-1-3-5-7-3 0-3 0-6-5-9-3-1-3 1-3 2-3-3-6-1-6-7-4-6-2-9-10-3-2-9-4-6 0zM472 2478l-6 5-3 1-1 2 1 4 3 2 6 2 6 5 9 4 3 7 3 4 3 0 5-1 2-9 3-6 0-3-8-9-2-3-3-1-9 1-6-4-3-1-3 0zM746 2438l-17 6-5 3-2 11-4 7 0 6 18 18 9 12 1 3 0 4-7 2 19 2 12-3 3-3 3-6 16-14 2-3 2-6 4-5 3-7 0-6-3-6-7-6-2-5-3-1-9-1-9 2-18-6-6 2zM842 2332l-9 4-2 3-1 6-4 3-5 1-30 4-9 5-1 2 3 6 1 6 7 15 5 1 15 0 6 1 6 0 6-2 6-6 8-15 7-9 2-6-2-6-4-3-4-9-1-1zM764 2197l3 0-3 0zM552 1611l5 0 0 3-1 2-3-2-1-3zM465 1635l2 0 3 3 0 3-1 4-3-3-2-4 1-3zM231 1644l0-1 2 1-2 6 0-6zM449 1644l2-1 3 1 1 3 3 3 1 3-2 3-3 3-4 0-4-3-1-3 3-6 1-3zM282 1665l0-1 1 1-1 2 0-2zM279 1668l1 0-1 2 0-2zM550 1816l6 0 3 1 6 5 3 6 17 15 7 4 9 0 9-3 21-2 6 1 15-1 12 1 7 3 2 0 3 3 3 0 3 3 0 3 3 3-2 3-1 12-4 6-9 6-17 3-9 4-15-3-12-4-18-2-9 1-12-2-9 1-9 4-4 4-5 7-6 4-12 4-9 5-4 1-4-9 2-9 5-12 0-6 1-9 10-12 4-12 1-8 4-10 2-4 6-5zM791 2083l3-1 9-1 1 2-3 6 1 3 1 1 3 1 6-2 9 3 2 3 1 3-2 3 1 6-3 6-2 3-3 1-6 0-18-5-3-2-2-6-7-9-1-3 1-4 3-5 6 1 3-4zM746 2113l3-3 3 0 3 3 3 1 1 2 0 3 3 3 0 9-2 3 1 3-6 6-9 0-6-6 0-3-2-3 0-9 2-3 0-3 3-2 3-1zM415 2188l6 0 9 2 3 0 3 3 4 4-3 9-1 2-3 0-6-5-3 0-6 2-6 4-4 0-4-9-1-3 1-3 3-3 8-3zM779 2251l3-1 1 1 0 3-1 6-3 3-3-1-1-2 1-3 3-6zM272 2266l1-1 3-1 9 1 3 2 3 5 0 9 2 13-1 6 1 3 6 3 0 3-2 2-6-2-6-6-1 0-14 2-3 0-10-8 0-3 1-4 8-6 0-3-2-2-6-2-1-2 0-3 1-3 3 0 3 2 3 0 5-5zM710 2297l3-2 3 1 1 4 0 3-4 0-3-2-1-1 1-3zM656 2351l2-1 3 1 9 8 1 4 0 12-2 3-2 1-3 0-3-1-4-3-2-9-3-3-6-2-8-4 2-3 2 0 7 1 3-1 4-3zM267 2399l3-3 3 6-3 2-3-5zM255 2414l3-2 6 0 9 3 6 1 5 4 2 6 4 6 6 15 1 9 3 6 0 6 2 9-8-2-1 2-8 4-3 0-6-2-6 0-6 7-8 3-10 1-3 0-6-4-6 1 0-66 12-2 6 0 3-2 3-3zM1087 2423l11-1 12 3-4 7-3 9-2 2-3 1-6 0-9 0-3-2-2-7 1-6 4-4 4-2zM616 2495l3-1 1 1 0 3-4 0-1 0 1-3zM646 2561l3-1 1 1-1 5-3-2 0-3zM751 2714l5 0-5 0z"/>
<path fill="#ebff0c" fill-rule="evenodd" d="M631 1611l38 0-3 12 3 9-2 9-6 3-7-3-2-3 0-3 0-3-12-10-8-5-2-3 1-3zM739 1611l92 0-1 3-5 6-4 4-5 2-4 5-16 13-2 3 0 4-9-4-4-3-2-4-3-1-24-4-9 0-6-2-4-10 2-6 4-6zM855 1611l60 0-1 6 0 4 3 4 3 7 6 6 3 5 6 5 18-1 12-6 12-3 9 1 5 2 2 3 1 6-1 3-4 8-4 10-1 13 0 3 4 9 7 7 9 6 9 1 11-2 13-1 15 9 5 10-1 27 3 3 0 3 2 2 3 3 3 0 7 7-4 5-9 1 16 6 6 0 3 2 6 0 3 3 3-3 6 0 3-3 3-1 9 7 4 7 0 12 2 9-2 9-2 6-14 12-12 6-6 4-6 1-3 2-16 0-3-2-6 0-3-2-3-1-33-11-27-15-27-3-5 3-2 3-2 3-3 3-9 4-6 1-6 3-6-1-18 2-10 6-1 3 0 6-1 3-15 9-3 0-13-3-8-9 8-9 0-3 3-3 0-6-6-6-1-3 2-2 3-2 12-1 15-6 3-2 3-7 3-4 3-3 3-1 6 0 4 1 3 3 3 6 2 2 3 0 3-1 6-4 6 1 6-1 3-3 3-6 7-6 14-7 18-5 4-3 2-9-1-3-8-7-6-4-12-4-9-5-7-4-5-6-3-6-7-9 0-3-3-3 0-6 4-5 5-1-3-18-5-13-3-2-6-1-12 6-6 1-6-5-3 0-3-3-3 0-3-3-6 0-3-3-12 0-3 2-5-1-6-9-5-12 1-6 5-12 1-3-4-3-1-6zM1200 1647l3-1 1 1 0 3 6 6-1 3-9 7-3-2-1-5 1-5 3-7zM1116 1668l6 0 2 0 1 3-2 7 5 9-1 6 1 6-1 9 4 5 6 4 3 9-1 3-3 0-2-3-2-6-4-4-9 2-12 0-6-3-6-4-4-6-2-12 1-6 2-3 3-4 6-2 3-7 3-1 3-1 6-1zM770 1684l9-2 9 0 3 2 6 5 3 1 21-3 6 1 7 5 11 14 6 6 15 7 16 12 9 12 2 9 1 6-1 3-5 6-4 2-9 1-9 0-9 6 0 3 4 6 0 6-2 3-1 3-1 1-3 1-3 3-1 1-2 6-3 4-3 1-12 0-9-2-6-3-6-6 3-1 7-8 0-6-1-2-3 0-3-4-5 0 5-18-1-6-2-2-42-16-6 0-12 7-12 14-2 6-4 3 0 2-6 4-3 1-9-6-7-1 1-9-7-21-12-8-9 2-21-1-12 1-6 0-9-2-6-1-3-2-3 0-6 4-21 1-3 3-12 0-2-3 4-18 3-3 10-4 21 0 3 1 9 5 6 0 9-4 6-7 7-6 14-6 3 1 6 8 9 6 12 1 3-1 3-3 3 0 7 2 15-5 15-3 12-10 15-5zM258 1717l6-2 15 0 3 2 6 9 0 3-1 3-5 4-9-2-12 13-9 4-3 1-9-3-9 0 0-25 6 0 6-2 9-2 6-3zM1247 1717l10-3 0 37-6-2-9-1-9-3-1-1-1-9 5-11 3-3 8-4zM424 1720l3-2 7 2 5 2 3 4 3-3 3 0 33-1 30 2 3 2 9 0 8 9-5 5-3 0-3 3-12 0-3 3-4 1-2 1-3 2-3 3-2 6 0 12 12 6 2 3-1 3-6 3-5 1-24 5-2 6-7 15-7 3-2 2-7 16-2 0-3 3-3 0-6 6-12 1-5-1-3-3 3-6 3-9 2-4 7-5 5-8 3-2 3-5 3-3-1-6-2-2-2-1-13-4-5-2-1-3 2-3 7-3 18-4 2-2 3-6 0-3-5-6-5-9-1-1-3-3-3 0-6-5 2-3-3-3-1-3 2-6zM1151 1732l4-2 3 0 9 3 7 5 5 6 6 6 1 6 11 10 6 0 3 3 9 1 3-3 6 0 3-2 6 10 4 11 8 7 6 0 6-2 0 133-6-2-9-5-9-7-3-3-1-7 2-21-2-12-8-12-3-1-11-11 0-6-3-3-1-11-2-1-7-2-4-4 0-3-3-3 0-3-17-18-4 0 0-12 2-3 0-6 2-3 0-1-15-3-10-8-2-10 3-6 5-5zM388 1744l3-2 3 0 3 2 1 3-1 6-3 6 9 12 1 6-1 12-8 12-3 3-7 3-9 2-3-1-8-4-4-3-1-3 1-3 12-15 8-21-1-9 2-3 6-3zM298 1774l5-1 6 1 9 4 12 8 7 3 7 6 1 3 1 3-2 3-5 4-21 3-21 11-3 1-6 0-6-1-3-3-6-6-8-6-7-11-7-4 1-3 6 0 15-10 6 1 2 0 4-4 9-1 4-1zM699 1777l2 0 2 3 4 9 5 6 1 3 0 3-4 6-2 6-4 3-3 1-9-4-18-5-18-1-12-4-6-3-3-3 0-2 0-4 3-5 3-2 9-2 12-4 9 0 12 2 17-3zM549 1831l4-2 3 0 7 8 7 3 6 6 16 10 12-3 9-3 9-2 3-2 6 0 3-2 21 0 9 0 3 2 6 1 3 3 3 0 2 2 0 3 3 3-2 3-1 3-2 2-3 0-3 4-2 0-10 8-15 5-6 1-9-2-9-1-15-7-3-1-12 0-9-1-6 2-15 2-5 3-7 7-12 4-5-2-1-3 0-4 5-11 4-16 5-8 1-12 2-3zM401 1846l5-3 1 3-4 3-1 0-1-3zM238 1852l8 0 3 2 4 7 0 6-1 3-3 4-12 9-3 2-3 1 0-34 7 0zM379 1852l6-1 4 1 2 1 3 5 5 6 1 3-2 3-7 5-3 1-18 2-9 0-3 2-3 3-12 20-13 15-3 3-6 1-9 3-3 3-10 14-2 6-6 3-3 4-6 3-3 3-3 1-6 0-6 1-6-3-9-9-6 0-6 2-6-1 0-29 15 0 9-2 9 1 12 0 9-1 6-2 3-2 3-3 15-38 9-11 9-4 6-1 3 1 13 9 3 1 3-1 6-9 2-3 7-4 6-2zM730 1852l1-2 3 0 1 2 2 9 0 12 3 4 6 0 3-3 27 1 3 2 6 1 3 2 3 0 6 6 6 1 8 7 2 3 1 6-2 3-3 3-2 3 1 3 6 9 1 3-8 15-7 9-9 2-3 0-6-1-12-7-9-1-9 2-9 1-9 5-6 1-3-1-2-1-1-3-2-12 0-6-1-9 1-9-3-9 0-6-1-12 1-6-4-12 1-6 2-4 3-1 9 0 2-4zM919 1870l4-1 8 7 7 5 11 16 3 12 0 18 1 5 3 4 4 3 1 3 1 9 0 9-3 10-3 3-12 4-11-2-4-3-2-6-2-15-1-3-7-9-6-6-3-6-1-18-2-9-1-12 4-12 2-3 9-3zM435 1891l7-3 9 1 3 1 6 7 9 8 18 7 9 6 3 3 2 9 0 6-2 7-3 3-6 3-12 3-12-2-15-4-6-3-3-4-3-13-6-11-1-6-2-6 0-6 3-5 2-1zM1129 1891l11-2 12 3 3 1 4 7 5 3 3 3 0 12-7 12-2 2-9-4-9-1-6-2-10 5-2 9-12 0-6 3-6 1-12 0-6-6-4-1-2 3 3 6 3 3 0 3-6 15-26 24-5 9-5 24 1 6 0 12-2 7-3 4-6 0-9-3-9-6-6-2-6-4-6 2-3-1-7-3-1-6 0-3 2-2 30-9 6-4 2-3 7-15 1-3-1-6-8-15-2-9 7-1 3-3 3 0 5-5 0-9-8-8-24 0-9 8-15-6-2-3 1-6 6-12 4-5 3-2 3 0 18 0 9 4 6 6 3 2 6 2 3 0 2-1 4-6 6-1 4-5 5-5 19 0 3-1 6-4 3 0 6 0 6 2 12-4 13-6zM618 1924l7-1 9 5 9 1 3 1 5 6 1 3-1 3-5 2-5 4-10 4-9 4-3 0-8-11-1-6 0-9 2-3 6-3zM819 1939l5-1 12 4 9 1 10 8 3 6 2 6 3 2 6 2 6 5 6 0 7 3 11 8 13 7 3 6 0 15 2 8 1 7 1 3 1 9 1 3 5 4 15 8 12 1 3 1 7 16 4 6 1 9 3 6 1 3-1 5-10 16-14 15-3 6 16 9 4 6 2 6 4 6 4 3 9 3 3 3 3 15 0 15-3 12 4 30 0 21-2 9-5 13-3 4-9 9-3 2-6 2-15 2-9 8-4 6-8 3-12 2-12-4-15 2-9-3-6 2-12-2-2 0-2-3 0-6-5-14-7-7-1-3 0-7 5-9 11-9 7-15 3-3 6-2 12 0 3-1 10-6 3-3 2-3 3-12 1-18-1-6-4-6 1-6-1-6 3-9 0-6 2-6 4-9-2-6 3-6 0-3-9-9-5-18-2-3-2-2-6-1-1-6-4-12 0-6-3-9-11-15-8-9-6-12-3-12 4-9 2-12-2-9-16-14-12-5-12-4-8-10-1-3 2-6 4-4 4-2zM363 1948l4-2 3 1 9 3 12 7 2 6-1 9-4 7-6 5-6 1-3-1-9-4-6-6-12-5-4-3 2-9 11-5 6-2 2-2zM1242 1978l6 0 9 2 0 99-18 9-15 21-1 4-2 3-6 4-9 10-8 4-7 2-5 4-4 7-7 5-6 6-2 1-6-1-9-6-3 0-6 3-3 0-9-4-3 0-3 2-3 9-3 2-4 0-2 3-3 3-2 6-7 5-2-2-1-6-12-2-9-6-3-4 0-9-2-6-1-6 0-3 6-10 3-1 6 3 3-1 3-3 6-1 6-2 9 0 6-2 4-4 3-6 1-6 4-9 1-9 2-4 3-4 6-4 6-8 6-4 9-4 9 1 12-2 33-16 3-2 4-10 0-6-6-27 1-3 2-3 8-7 12-5zM537 2002l5 0 11 6 15 4 3 3 4 8 8 12-6 6-3 2-9 0-6-2-6-5-6-2-3-2-9-7-4-8-7-6 1-3 1-2 11-4zM619 2002l3-3 3 3 1 3 1 3-2 3-3 3-3 0-2-3-2-3 1-3 3-3zM322 2032l11 1 10 2 9 2 1 4 0 3-1 3-8 6-3 6-6 6-11 6-6-1-6 1-3-1-6-5 0-3 4-6 4-9 0-6 4-3 7-6zM381 2041l4 0 6 4 6 1 9 5 6-1 3 1 1 5-1 6-6 6-3 7-18 7-3-1-9-10-7-12-2-6 3-5 9-6 2-1zM747 2113l2-1 3 0 3 2 3 1 1 4 2 3 0 9-2 3 0 3-4 5-9 0-5-5 0-3-2-3 0-9 2-3 0-3 6-3zM536 2170l6 0 3 3-2 3-2 1-9-2 0-2 4-3zM349 2182l3 0 3 0 3 2 3 4 0 3-1 6 0 6-2 5-14 10 1 3-2 1-7 1-2-2 4-6-2-1 0-5 4-6 2-15 2-3 5-3zM519 2203l1-1 6 8 8 29 6 6 2 6 14 10 7 11 1 6-2 3-18-6-3-6-12-6-6-7-3 0-6 3-3 0-12-6-3-7 0-4 10-21 10-12 1-4 2-2zM652 2209l0-2 3 0 0 3-3 1 0-2zM659 2224l2-1 3 1-1 3-5 2 0-2 1-3zM315 2242l4 0-4 4 0-4zM413 2245l5-2 3 0 7 5 2 3 0 6 0 9-1 3-2 2-12 1-18-6 0-3 6-9 6-6 4-3zM1202 2269l4-1 6-1 2 2-1 15 8 16-1 21 3 9 0 6 3 6 8 6 5 4 18 2 0 127-6 1-9 3-9 1-12-3-9-6-9-3-6 1-6 5-4 6-1 3 1 6-11 9-2 6 0 9 2 3 9 3 3 6-3 27 0 12 5 3 28 11 21-2 18 2 0 45-9 1-9-4-3-1-6-5-3 0-3-3-3 0-3-3-6 0-3-3-3 0-3-3-3 0-3-3-3 0-3-3-3 0-3-3-3-1-3-2-6-1-3-2-3-1-3-2-3 0-3-3-6-1-3-2-3 0-3-3-3 0-3-3-6 0-3-3-3-1-3-2-6-1-3-3-3 0-3-3-3 0-3-3-6 0-3-3-3-1-3-2-6-1-6-6 0-3 3-1 18 0 7-8 8-2 9-3 8-1 4-3 4-9 0-12 1-9 0-6 2-9-1-12 1-3 3-3 8-3 15-2 12 0 9-2 9 0 6-2 2-3 1-9 6-27-6-9-2-6-8-9-2-3-2-6-4-7-3-1-3 4-3 2-9 0-4-1-2-3-2-9 1-9 1-6 3-4 9-5 3-3 5-12-1-6-6-9-2-9-3-6 10-3 9-6 6-1 4-2 1-4 2-12 1-3zM355 2272l6-1 3 1 3 4 7 5 2 3 0 4-2 12-7 9-3 1-3 0-3-1-7-6-2-3-2-6-2-3-3-10-1-3 3-3 11-3zM787 2288l4-1 6 2 10 11 0 6 2 3 11 9 4 5 0 4-2 6-4 5-3 1-6 3-3 0-6-4-3-1-12 1-3 0-3-2-6-12-2-6-7-6-1-3 4-9 3-3 12-6 5-3zM1019 2324l3-1 9 2 6-1 3 1 3 3 2 5-3 24-10 18-7 7-18 7-9 6-12 2-9 0-9 3-3 0-3-1-6-12 0-3 7-12 14-15 6-8 6-5 15-8 13-9 2-3zM891 2348l2-2 3 0 7 8 1 3-2 9 2 9-1 3-3 3-4 2-3 0-3-2-3 4-3 1-6 1-9-2-5-4-1-3 0-6 6-6 9-3 2-9 4-4 7-2zM287 2351l4-3 3 0 8 6 2 3 1 3-8 12-12 4-6-1-6-6-1-6 8-9 7-3zM557 2351l8-1 6 1 5 3 4 12 0 12-3 4-12 1-9 3-9 0-6-1-3-3 0-7-4-6 0-6 7-8 3-2 6 0 7-2zM345 2372l4 0 3 3 0 3-3 2-3-1-2-4 1-3zM856 2372l4-2-1 5-2 2-1-2 0-3zM737 2375l6-2 9 1 7 4 8 2 4 4 3 3 1 6-1 9 2 6 5 6 4 7 6 1 0 1-4 3-14 2-6-2-5-3-7-4-12-4-3 5-3 3-3 2-3-2 0-3 1-3 4-3-1-6 3-9-1-3-3-6-5-6 0-3 3-3 5-3zM583 2384l3-2 3 5-3 2-4-2 1-3zM618 2414l2 0-1 2-3 1 2-3zM454 2417l21 3 3 1 1 2 0 3-1 3 1 3 2 2 6 0 4 4 1 3-1 3-3 6-10 5-9 0-12 3-9-2-5-3-4-7-3-2-1-3 4-3 1-3 0-6 1-3 7-6 6-3zM231 2435l0 3 0-3zM650 2438l2-3 9 2 12 6 18 11 6 2 9 4 2 2 1 6 17 18 4 6 0 3-2 2-6-1-22-10-6 5-3 1-12 1-3-1-7-9-2-6-2-9 1-3 2-3-2-3-11-12-5-9zM821 2453l12-1 3 0 1 1 7 12 0 6-11 1-3-2-12-1-2 2 8 7 3 0 6 6 3 1 3 3 3 1-1 9 1 5 3 2 3 0 3 1 9 12 6 6 3 7 0 9-3 2-6-1-3-1-3 0-12 5-9 1-12-2-7 2-8 0-6 1-4-1-2-2-3 1-6 4-3 1-2-1 4-6-1-3-4-6-1-3 0-6 1-6 2-3 25-15 3-3 0-9 2-6-2-6 0-6 5-12 4-5 3-1zM980 2456l6-2 12 1 16 4 7 3 1 3-6 5-6 0-3 1-9 4-15 2-12 4-15 0-6 1-4-2-6-9 0-9 1-2 12 1 27-5zM426 2501l4-2 6-1 6 0 7 3 3 3 4 6 7 3 6 0 3 3 7 12 1 6-8 8-14 7-10-2-6 2-12-1-3 1-6 3-6 2-9-1-6-2-3-3-1-5 10-11 3-1 4-3 0-3-3-3-1-3 1-3 4-3 7-3 3-3 2-6zM537 2501l7-1 3 1 14 9 2 3 7 12-4 6-4 2-12 1-3-2-2-4-4-3-8-6-2-6-1-6 2-3 5-3zM405 2507l4-3 2 3-2 4-6 0-1-1 3-3zM1043 2510l15 6 5 6 0 6-2 2-3 1-21 4-5-1-4-3-1-3 1-2 3-2 9-13 3-1zM401 2525l2-1 3 1 0 3 0 2-3 1-2-3 0-3zM363 2555l4 0 6 3 15-2 6-3 3 1 1 10-1 6-9 4-3 3-3 2-6-2-3 2-3-1-6-5-5-6 0-9 4-3zM231 2564l0-2 2 2-2 9 0-9zM1030 2591l19 2 6 1 3 3 3 9-1 6-5 9-3 1-6-1-9 2-9-1-6-3-6 1-9 4-3-1-4-5-3-9 0-3 2-6 2-2 12-5 17-2zM408 2606l7-2 3 1 4 4 1 3-3 6 4 9-1 9 1 3 18 8 6 4 9 2 3 4 0 9-1 3-5 5-12 7-9 1-9 3-5-1-4-3 1-6-7-6-2-3-2-12-5-6-5-9-1-6 2-9 0-6 2-3 10-9zM493 2630l3-1 6 2 9 2 5 3 4 3 15 18 8 6 2 3 7 15 0 3-2 4-3 2-9 3-12-5-8-10-1-6-3-6 0-4-2-2-4 0-3-2-4-7-5-4-2-2-3-9 1-3 1-3zM853 2630l4-1 3 1 1 3-1 1-3 1-3-1-1-4zM633 2660l2 0-1 2-1-2zM990 2702l2-1 3 0 1 4-1 1-3 0-1-1-1-3zM987 2714l5-1 1 1-6 0z"/>
<path fill="#ffc400" fill-rule="evenodd" d="M889 1617l4-2 3 0 3 2 3 6 9 9 5 6 8 15 0 3 0 3-4 6-6 5-6 2-3-3-3 0-3-2-3 0-3-3-6 0-3-3-15-1-2-4-1-6 0-9 3-9 18-12 2-3zM968 1650l3 1 8 5 2 3 0 6-3 10-1 12 3 6 6 9 9 7 12 5 27-2 9 5 6 6 2 6 2 15 2 2 1 7 3 3 0 3 5 5 4 1 4 6-4 3-16 1-3 1 0 1 1 6 2 3 6 3 9 0 10 1 12-2 6 1 6-2 3 2 12 10 4 17-1 6-3 6-6 6-14 9-7 8-2 1-4 0-3 2-5 1-11-1-3-2-6 0-12-7-5-5-4-5-6-2-9-1-3-1-6-5-12-6-17-4-10-7-2-2-1-3 3-5 6-4 6-2 6 0 3-1 9-9 9-6 2-3-1-6-4-6-27-14-9-3-12-7-16-18-3-6-1-3 2-5 3-1 6-2 2-1-1-12-4-19 2-12 7-5 12-4zM776 1696l12 0 9 4 9 0 9-3 3-1 6 1 3 2 3 6 6 5 6 7 4 3 11 1 5 2 8 6 6 6 4 6 1 6 0 6-2 6-7 4-12 4-8 7 1 3 8 9 0 6-3 3-1 4-3 0-3 3-3 1-3 3-12 4-6 0-3-1-9-6 0-2 5-6 0-6-2-2-3-1-4-3 4-9 3-6 6-6 2-6-2-5-6-4-12-2-12 0-18-7-12-5-9-1-9 4-3 2-3 6-3 3-12 6-3 1-3-1-7-6-1-3 2-12-2-6 2-2 3-2 9 1 9-6 3-4 3-2 6-1 9-6 6-1 6 1 3-1 6-7zM446 1726l35-2 27 1 3 1 3 1 8 2 4 2 2 4-2 3-8 3-10 1-3 1-6 1-24 2-18-2-18-3-9-3-2-3 2-4 4-2 8-2 4-1zM1182 1756l3-3 0 3 12 11 6 0 3 3 9 0 3-3 3 1 3 9 10 15 5 9 6 3 12 3 0 72-14-9-13-15-3 2-3-1-3-3-3 0-3-3-7-7 0-6-3-3-1-12-1-4-9 1-3-3-1-3-3-3 0-3-17-18-3 0 1-9 2-9 6-10 6-5zM469 1768l3-2 3 0 6 4 3 4 7 3 3 3-2 3-8 3-12 1-12 1-12-1-12-1-8-3-2-3 3-3 7-3 18-2 9-1 3-2 3-1zM299 1786l4-3 3 0 6 2 6 1 4 3 2 3 0 3-3 4-18 8-3 0-3-2-8-10 0-3 2-2 8-4zM653 1789l8-3 30 2 3 2 3 2 3 6 0 3-3 3-6-1-6 0-4-2-2-3-3-1-9 3-9-1-4-1-4-3 0-3 3-3zM378 1792l1-1 3 1 1 3-1 2-3 0-3-2 2-3zM633 1846l1-1 6 0 24 0 3 2 6 1 3 3 3 0 2 4 2 3-2 3-2 4-3 0-3 3-6 1-3 3-8 1-10 4-3 0-12-2-9 0-2-2-6-9 0-9 5-5 3 0 3-2 6-1 2-1zM556 1852l3-2 13 5 5 3-1 3-4 3-6 3-7 1-3-1-3-3-2-3 0-3 5-6zM327 1873l3-2 3 0 5 2 2 3 1 6-2 6-2 9-5 6-8 7-3 1-8-2-2-3-1-3 2-15 3-5 12-10zM751 1876l25 0 3 2 6 1 3 3 1 0 5 4 2 5 0 3-2 6-5 6 1 6-4 9 0 3 2 3 4 3 0 3-1 1-3 1-9 1-12-2-6 1-6-1-9 1-5-2-1-3 2-9-1-3-1-4-8-8-2-3 1-3-1-9 1-3 6-6 3-1 3-2 8-3zM919 1885l4-2 3 0 3 2 8 9 3 6 2 6 0 15-1 12-3 9 1 3 11 6 2 3 0 3-2 2-6 3-6 0-2-2-3-6 0-9-7-7-13-14 0-6 1-12 0-6 1-9 1-3 3-3zM1241 1897l1-3 3 1 1 5-1 3-3-1-1-5zM444 1906l4-2 3-1 8 6 16 5 12 7 6 5 2 4 0 6-1 3-7 5-9 2-12-1-12-5-4-4-8-21 0-6 2-3zM992 1918l3-2 3-1 16 3 2 1 5 8 6 6-23 0-3 3-3 0-4-3-4-6 0-3 2-6zM269 1936l1-1 3 2 2 5-2 2-3 1-5-3 0-3 2-3 2 0zM1031 1936l9-1 15 1 6 3 3 3 2 6 2 12-1 3-14 15-10 6-3 0-3-1-6-6-6-8-2-6 0-3 2 0 3-4 3 0 6-5 0-9-6-6zM876 1984l5-1 6 1 15 10 4 5 1 9 5 12 2 12 0 9 1 3 8 7 6 3 12 8 11 12 1 3 0 6 1 6 0 6-9 9-7 1-6 3-10-4-14-15-8-6-11-21-5-6-8-12-8-9-4-12 0-9 6-21 2-5 4-4zM1241 1990l7-1 6 2 3-1 0 75-15 5-3 3-18 28-1 3 1 3 0 3-1 3-3 3-8 3-12-1-3 1-12 8-12 10-3 2-3 0-3-2-3-4-9 0-8-8-1-3-1-15-2-6 3-7 2-5 14-9 5-5 6-5 21-8 6-4 12-4 12-3 9-5 8-14 0-3-1-12-4-9-1-12 2-3 10-3zM748 2113l4 0 5 3 4 9-1 6-2 3 0 3-3 3-3 1-6-1-3-3-1-3-2-3 0-9 3-5 5-4zM935 2155l3-1 3 0 6 2 16 14 11 7 3 5 5 15 1 3-2 6-2 12 1 9 0 9 2 9-2 9 3 9-1 9-6 9-2 7-6 4-7 2-8 2-6 1-9 6-15 3-3 3-6 2-3 1-12-2-21 4-9-2-3-3-2-3-6-18 2-10 9-13 9-9 9-3 12-4 9-10 7-15 2-9-1-12 1-12-1-12 7-15 12-9zM1188 2306l6-3 9 1 3 2 5 9 4 12 0 3-4 9 0 3 3 3 14 6 5 5 3 5 9 3 6-2 6 1 0 112-6 0-12 4-9 0-6-2-5-3-4-5-2-4-2-6 1-6 3-9 3-9 9-5 9-2 2-2 0-3-2-5-6 2-1 0 1-3-12-2-6-3-3-4-2-6 1-6 2-3-1-2-5-1 0-3-7-5-6-7-2-6 2-9 4-6 5-5 3-1-1-3-2-2-6 0-1-1 0-3 1-9-2-6 0-3-5-9 0-3 1-3zM1015 2342l4-2 6 0 3 2 4 6 0 9-7 12-9 8-12 5-9 6-4 2-5 1-3 0-9-4-2-3 0-3 5-13 11-11 8-3 7-6 4-2 8-4zM873 2369l5-1 3 1 4 3 2 3 0 3-3 4-3 1-6 1-6-3-2-3 0-3 2-4 4-2zM825 2462l5 0 3 2 1 4-1 3-3-3-9 0 1-3 3-3zM823 2480l4 0 6 6-3 5-3 0-4-5 0-6zM822 2504l2-1 3 1 3 6 15 9 5 6 0 3-2 3-8 6-7 2-6-2-6-1-5-2-4-3-6-1-3 0-3-3-1-2 1-3 9-6 6-8 7-4zM1151 2531l4-2 3 0 6 4 9 1 4 3 1 6-1 9 0 9 0 3-3 6 5 3 45 18 3 1 9-2 9 3 6 1 6-1 0 6-3 4 3 1 0 12-2 2 2 3-2 3-7 1-12-1-6-5-3 0-3-2-3-1-3-2-6-1-3-3-3 0-3-3-3 0-3-3-3 0-3-3-3 0-3-3-3-1-3-2-6-1-3-2-3-1-3-2-3-1-3-2-6-1-3-2-3 0-3-3-3 0-3-3-6 0-3-4-3 0-3-3-5 0-7-4-9-8 0-3 3-2 1-4 2-4 3-1 3-1 9 4 6 1 6-5 12-5 5-7zM1131 2554l-1 1 3 0-2-1z"/>
<path fill="#ff8600" fill-rule="evenodd" d="M888 1632l5 0 9 3 11 9 1 3 2 9-2 6-3 3-6 3-3 1-3-3-3 0-3-3-6 0-3-3-8-1-4-9 0-6 6-7 10-5zM959 1662l6-2 3 0 3 2 2 3-4 13 2 12 6 9 15 14 6 3 9 2 24-1 6 2 5 4 3 6 3 15 1 3 6 6 3 5 2 4-1 3-7 2-15 0-3 3-3 1-3 0-9-5-3-4-5-3-16-7-15-9-9-2-9-6-5-6-5-12 1-3 3-3 3-18-3-22 1-6 2-3zM781 1714l10-2 12 1 11 10-2 3-3 2-3 5-3 3-6 1-12-2-13-6-5-6 0-3 3-3 6 0 5-3zM463 1726l24-1 15 2 12 3 4 2 1 3-3 3-10 3-13 1-15 1-15-1-13-1-10-3-3-3 1-3 7-3 18-3zM1185 1762l3-2 3 1 6 6 6 0 3 3 9 1 3 9 12 16 6 5 6 9 15 2 0 46-6 0-9-3-3-2-3-3-9 4-3 0-3-2-3 0-9-9 0-6-3-5 0-13 1-6-4-3-9 1-6-1 0-3-12-12-2-3 0-9 2-9 3-6 6-6zM831 1768l5-2 5 2 3 3 0 3 7 3 6 5 3 4 0 3 0 3-3 3-1 3-2 0-3 3-3 0-3 2-6 0-9 3-12-7 0-1 2-3 0-6-2-3-3 0 2-6 4-6 3-3 7-3zM468 1771l4-2 3 0 3 2 1 3-1 2-3 2-3 1-5-5 1-3zM1065 1798l2-1 16-1 15 1 3 1 7 9 4 9 1 3-4 9-11 8-9 4-5 6-7 3-7 0-9-1-12-5-3-3-5-6-3-6 1-6 4-7 4-2 8-9 10-6zM635 1846l17-1 12 1 3 2 6 1 3 3 2 0 4 6-3 6-3 0-3 3-6 1-3 2-21 1-6 0-12-3-6-4-2-3-1-3 1-3 3-3 2-1 3-2 6-1 4-2zM756 1879l14 0 12 4 6 5 1 3 0 6-2 3-5 3-12 4-12 0-12-3-7-4-2-3 0-6 1-3 5-4 6-3 7-2zM471 1930l1-1 3-2 3 1 8 5-1 3-4 3-6 0-5-3-1-3 2-3zM1038 1945l5-1 9 2 5 2 2 3 1 6-1 3-7 9-3 4-3 1-3 1-3-2-6-5-3-5 0-6 6-6 1-6zM878 1996l3-2 3-1 6 2 6 6 6 10 4 12 1 9-1 9-4 6-6 1-3-1-15-15-2-3-3-15 2-12 3-6zM1203 2062l12-2 6 1 9-1 3 2-6 6-1 9-3 9-6 6-4 6-4 3 6 3 3 3 0 3-3 4-3 2-6 0-6-1-3-1-3-4-9 1-4-1-4-3-1-3 1-3 0-3-4-2-2-4 4-6-1-6 1-3 7-3 6-4 15-8zM1160 2098l10 1 5 5-1 6-7 8-9 0-6-5-2-3 0-3 2-4 3-3 5-2zM748 2116l4 0 3 1 3 5 1 3-1 6-1 3-2 3-3 1-3 0-3-1-3-4-2-5 2-7 3-4 2-1zM942 2170l5 0 18 11 3 3 3 7 1 3-1 6 2 9-3 9 3 27-1 9 1 6-3 6 0 9-2 5-3 3-3 1-9-2-3 0-3 2-9 1-6 4-9 2-9 6-15 3-6 3-12 0-3-1-6-5-3-6 3-14 9-12 12-5 9-2 9-7 9-9 1-3 3-15 1-15-1-6 2-9 0-6 1-3 8-11 7-4zM1205 2354l7-2 6 1 6 3 4 4 1 3 1 6-2 6-4 3-6 3-9 1-6-3-5-4-2-6 1-6 3-5 5-4zM1217 2393l4-2 3 0 3 1 4 4 1 6-1 3-4 5-3 1-6-1-3-2-2-3-1-6 2-3 3-3zM1256 2402l1-2 0 2-1 0zM1226 2444l7-3 9 1 6 5 3 4 3 2-4 12-5 5-6 3-6 0-7-2-5-5-3-7 1-6 2-5 5-4zM1123 2558l14 1 21 6 19 11 7 6 0 3-2 2-3 0-9 0-2-2-7 0-15-6-6 1-3-4-5 0 1-3-13-9-2-3 4-3 1 0zM1194 2597l3-1 3 1 12 1 2 2 7 0 2 3 4 0 9 5 9 7 2 3-2 3-2 0-7 0-9-3-3-2-3 0-3-3-6 0-3-3-3 0-3-3-3-1-3-3-3 0-3-3 3-3z"/>
<path fill="#ff4700" fill-rule="evenodd" d="M888 1641l5-1 9 4 4 3 2 3 0 6-4 6-2 2-3 0-6-1-6-1-4-3-3-6-1-6 2-2 7-4zM966 1705l2-1 4 1 18 15 14 5 9-2 6 1 9-2 4 1 5 2 3 4 2 12-2 6 5 6 1 3-1 3-8 1-9 0-6-2-22-8-20-12-6-1-6-3-5-5-4-6 0-3 3-9 4-6zM458 1729l17-2 18 1 15 4 2 3-5 3-6 1-21 2-21-2-6-1-5-3 2-3 10-3zM1190 1768l4-2 3 2 5 0 4 3 4 6 2 6 6 9 2 6-1 3 2 2 6 0 6 3 3 4 3 6 3 1 6 1 9-1 0 29-9 0-6-2-3-2-3-1-6 5-6 1-6-2-3-3-4-8-1-9 1-9 4-9-6-1-6-4-6 2-6-1-6-4-4-7-1-9 2-6 3-6 5-3zM829 1777l16 1 6 2 4 6 1 6-2 3-6 4-6 1-6-1-3-2-6 0-3-1-3-3 0-7 4-6 4-3zM1070 1807l7-3 15 2 6 4 2 3 1 9-3 6-4 3-5 2-6 1-3 6-3 2-7 2-6 0-6-2-7-5-5-6 0-6 1-3 3-3 9-3 2-3 3-3 6-3zM633 1849l13-2 15 1 11 4 3 3 1 3 0 3-3 3-9 3-12 2-15-1-12-4-3-3 0-3 1-3 3-3 7-3zM750 1885l11-3 12 1 8 5 2 3 0 3-1 3-3 3-9 3-9 1-12-2-6-4-2-1 0-3 4-6 5-3zM1201 2074l5-2 6 1 3 1 2 3-1 3-4 4-3 1-3-1-6-4-1-3 2-3zM1204 2104l5 0 3 2 1 1 1 3-5 4-6 0-3-2-2-2 1-3 5-3zM748 2119l4 0 3 2 1 4 0 6-4 4-3 0-3-2-2-5 1-6 3-3zM960 2212l2-1 3-1 3 2 0 3-3 3-3-1-2-2 0-3zM943 2239l4-1 3 0 4 4 1 6-2 3-3 2-3 1-3-1-3-2-2-3 0-3 1-3 3-3zM937 2263l4 0 3 1 3 2 2 3 0 3-2 5-3 3-3 1-3 0-4-3-2-3-1-3 0-3 2-3 4-3z"/>
<path fill="#f10800" fill-rule="evenodd" d="M1008 1732l5-1 3 1 3 3 1 3-4 5-9 0-2-2-2-3 5-6zM836 1783l6-2 6 2 3 3 1 3-1 3-2 3-4 2-6 0-3-2-3-3-1-3 1-3 3-3zM1222 1810l5-1 3 2 4 5 2 6 0 6-2 6-4 5-3 2-3 0-3-1-3-3-2-3-2-6 0-6 2-6 2-3 4-3zM633 1852l10-3 15 1 9 3 3 2 1 3-1 3-4 3-5 1-9 2-12-1-8-2-4-3-1-3 1-3 5-3zM749 1891l6-3 7 6-4 6-7 0-5-3-1-3 4-3z"/>
<rect x="231.2" y="1611.4" width="1025.8" height="1102.8" fill="none" stroke="#000" stroke-width="1.6"/>
<path d="M309.6 2714.2v-8M309.6 1611.4v8M443.4 2714.2v-8M443.4 1611.4v8M577.3 2714.2v-8M577.3 1611.4v8M711.1 2714.2v-8M711.1 1611.4v8M845.0 2714.2v-8M845.0 1611.4v8M978.8 2714.2v-8M978.8 1611.4v8M1112.6 2714.2v-8M1112.6 1611.4v8M1246.5 2714.2v-8M1246.5 1611.4v8M231.2 1678.6h8M1257.0 1678.6h-8M231.2 1822.5h8M1257.0 1822.5h-8M231.2 1966.5h8M1257.0 1966.5h-8M231.2 2110.4h8M1257.0 2110.4h-8M231.2 2254.4h8M1257.0 2254.4h-8M231.2 2398.3h8M1257.0 2398.3h-8M231.2 2542.2h8M1257.0 2542.2h-8M231.2 2686.2h8M1257.0 2686.2h-8" stroke="#000" stroke-width="1.4" fill="none"/>
<text x="309.6" y="2751.5" class="tk" text-anchor="middle">76</text>
<text x="443.4" y="2751.5" class="tk" text-anchor="middle">78</text>
<text x="577.3" y="2751.5" class="tk" text-anchor="middle">80</text>
<text x="711.1" y="2751.5" class="tk" text-anchor="middle">82</text>
<text x="845.0" y="2751.5" class="tk" text-anchor="middle">84</text>
<text x="978.8" y="2751.5" class="tk" text-anchor="middle">86</text>
<text x="1112.6" y="2751.5" class="tk" text-anchor="middle">88</text>
<text x="1246.5" y="2751.5" class="tk" text-anchor="middle">90</text>
<text transform="translate(221.8 1689.6) scale(1.0900 1)" class="tk" text-anchor="end">−8</text>
<text transform="translate(221.8 1833.5) scale(1.0900 1)" class="tk" text-anchor="end">−10</text>
<text transform="translate(221.8 1977.5) scale(1.0900 1)" class="tk" text-anchor="end">−12</text>
<text transform="translate(221.8 2121.4) scale(1.0900 1)" class="tk" text-anchor="end">−14</text>
<text transform="translate(221.8 2265.4) scale(1.0900 1)" class="tk" text-anchor="end">−16</text>
<text transform="translate(221.8 2409.3) scale(1.0900 1)" class="tk" text-anchor="end">−18</text>
<text transform="translate(221.8 2553.2) scale(1.0900 1)" class="tk" text-anchor="end">−20</text>
<text transform="translate(221.8 2697.2) scale(1.0900 1)" class="tk" text-anchor="end">−22</text>
<text transform="translate(516.0 2806.0) scale(1.0640 1)" class="lab" text-anchor="start">longitude (degrees)</text>
<text transform="translate(121.0 2368.5) rotate(-90) scale(1.0660 1)" class="lab">latitude (degrees)</text>
<rect x="1321.5" y="2640.68" width="55.0" height="73.82" fill="#0000a4"/>
<rect x="1321.5" y="2567.16" width="55.0" height="73.82" fill="#0000f1"/>
<rect x="1321.5" y="2493.64" width="55.0" height="73.82" fill="#0028ff"/>
<rect x="1321.5" y="2420.12" width="55.0" height="73.82" fill="#006cff"/>
<rect x="1321.5" y="2346.60" width="55.0" height="73.82" fill="#00b0ff"/>
<rect x="1321.5" y="2273.08" width="55.0" height="73.82" fill="#0cf4eb"/>
<rect x="1321.5" y="2199.56" width="55.0" height="73.82" fill="#43ffb4"/>
<rect x="1321.5" y="2126.04" width="55.0" height="73.82" fill="#7dff7a"/>
<rect x="1321.5" y="2052.52" width="55.0" height="73.82" fill="#b4ff43"/>
<rect x="1321.5" y="1979.00" width="55.0" height="73.82" fill="#ebff0c"/>
<rect x="1321.5" y="1905.48" width="55.0" height="73.82" fill="#ffc400"/>
<rect x="1321.5" y="1831.96" width="55.0" height="73.82" fill="#ff8600"/>
<rect x="1321.5" y="1758.44" width="55.0" height="73.82" fill="#ff4700"/>
<rect x="1321.5" y="1684.92" width="55.0" height="73.82" fill="#f10800"/>
<rect x="1321.5" y="1611.40" width="55.0" height="73.82" fill="#a40000"/>
<rect x="1321.5" y="1611.4" width="55.0" height="1102.8" fill="none" stroke="#000" stroke-width="1.6"/>
<text x="1384.0" y="1690.4" class="cb" text-anchor="start">24</text>
<text x="1384.0" y="1837.5" class="cb" text-anchor="start">16</text>
<text x="1384.0" y="1984.5" class="cb" text-anchor="start">8</text>
<text x="1384.0" y="2131.5" class="cb" text-anchor="start">0</text>
<text transform="translate(1386.0 2278.6) scale(1.0900 1)" class="cb" text-anchor="start">−8</text>
<text transform="translate(1386.0 2425.6) scale(1.0900 1)" class="cb" text-anchor="start">−16</text>
<text transform="translate(1386.0 2572.7) scale(1.0900 1)" class="cb" text-anchor="start">−24</text>
<text transform="translate(1386.0 2719.7) scale(1.0900 1)" class="cb" text-anchor="start">−32</text>
<path d="M1376.5 1684.9h-8M1376.5 1832.0h-8M1376.5 1979.0h-8M1376.5 2126.0h-8M1376.5 2273.1h-8M1376.5 2420.1h-8M1376.5 2567.2h-8M1376.5 2714.2h-8" stroke="#000" stroke-width="1.4" fill="none"/>
<text transform="translate(72.3 1601.5) scale(1.1126 1)" class="ti" text-anchor="start">Reconstructed temperature at t = 2100 ,</text>
<text transform="translate(1196.0 1601.5) scale(1.1000 1)" class="mi" text-anchor="start">j</text>
<rect x="1226.2" y="1579.8" width="35.8" height="1.5"/><rect x="1226.2" y="1591.9" width="35.8" height="1.5"/>
<text x="1274.5" y="1601.0" class="mr" text-anchor="start">4</text>
<rect x="1316.1" y="1587.6" width="32.5" height="1.5"/>
<text transform="translate(1361.0 1601.0) scale(0.9500 1)" class="mr" text-anchor="start">14</text>
<text transform="translate(803.5 1443.4) scale(0.9300 1)" class="pl" text-anchor="start">(<tspan font-weight="bold">a</tspan>)</text>
<text transform="translate(799.5 2951.9) scale(0.9600 1)" class="pl" text-anchor="start">(<tspan font-weight="bold">b</tspan>)</text>
</svg>
</body></html>
